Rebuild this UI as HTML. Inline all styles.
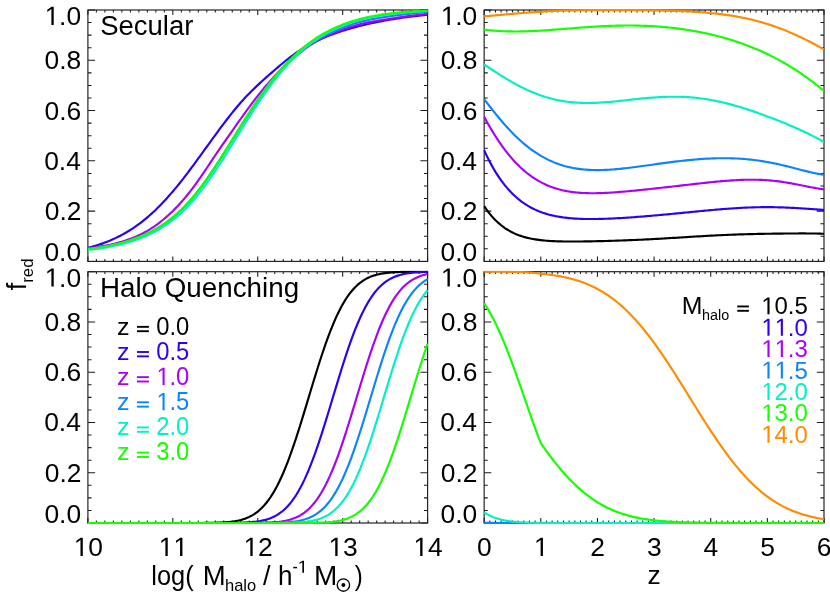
<!DOCTYPE html>
<html><head><meta charset="utf-8"><title>f_red</title><style>html,body{margin:0;padding:0;background:#fff;font-family:"Liberation Sans",sans-serif}svg{display:block;will-change:transform}</style></head><body>
<svg width="830" height="593" viewBox="0 0 830 593">
<rect width="830" height="593" fill="#fff"/>
<defs><clipPath id="c1"><rect x="87.20" y="8.70" width="341.10" height="254.00"/></clipPath><clipPath id="c2"><rect x="483.45" y="8.70" width="341.25" height="254.00"/></clipPath><clipPath id="c3"><rect x="87.20" y="270.40" width="341.10" height="253.90"/></clipPath><clipPath id="c4"><rect x="483.45" y="270.40" width="341.25" height="253.90"/></clipPath></defs>
<path d="M87.90 261.40v-5.0M87.90 10.00v5.0M96.39 261.40v-2.4M96.39 10.00v2.4M104.88 261.40v-2.4M104.88 10.00v2.4M113.38 261.40v-2.4M113.38 10.00v2.4M121.87 261.40v-2.4M121.87 10.00v2.4M130.36 261.40v-2.4M130.36 10.00v2.4M138.85 261.40v-2.4M138.85 10.00v2.4M147.35 261.40v-2.4M147.35 10.00v2.4M155.84 261.40v-2.4M155.84 10.00v2.4M164.33 261.40v-2.4M164.33 10.00v2.4M172.83 261.40v-5.0M172.83 10.00v5.0M181.32 261.40v-2.4M181.32 10.00v2.4M189.81 261.40v-2.4M189.81 10.00v2.4M198.30 261.40v-2.4M198.30 10.00v2.4M206.80 261.40v-2.4M206.80 10.00v2.4M215.29 261.40v-2.4M215.29 10.00v2.4M223.78 261.40v-2.4M223.78 10.00v2.4M232.27 261.40v-2.4M232.27 10.00v2.4M240.77 261.40v-2.4M240.77 10.00v2.4M249.26 261.40v-2.4M249.26 10.00v2.4M257.75 261.40v-5.0M257.75 10.00v5.0M266.24 261.40v-2.4M266.24 10.00v2.4M274.73 261.40v-2.4M274.73 10.00v2.4M283.23 261.40v-2.4M283.23 10.00v2.4M291.72 261.40v-2.4M291.72 10.00v2.4M300.21 261.40v-2.4M300.21 10.00v2.4M308.71 261.40v-2.4M308.71 10.00v2.4M317.20 261.40v-2.4M317.20 10.00v2.4M325.69 261.40v-2.4M325.69 10.00v2.4M334.18 261.40v-2.4M334.18 10.00v2.4M342.68 261.40v-5.0M342.68 10.00v5.0M351.17 261.40v-2.4M351.17 10.00v2.4M359.66 261.40v-2.4M359.66 10.00v2.4M368.15 261.40v-2.4M368.15 10.00v2.4M376.65 261.40v-2.4M376.65 10.00v2.4M385.14 261.40v-2.4M385.14 10.00v2.4M393.63 261.40v-2.4M393.63 10.00v2.4M402.12 261.40v-2.4M402.12 10.00v2.4M410.62 261.40v-2.4M410.62 10.00v2.4M419.11 261.40v-2.4M419.11 10.00v2.4M427.60 261.40v-5.0M427.60 10.00v5.0M87.90 261.40h7.2M427.60 261.40h-7.2M87.90 248.83h3.6M427.60 248.83h-3.6M87.90 236.26h3.6M427.60 236.26h-3.6M87.90 223.69h3.6M427.60 223.69h-3.6M87.90 211.12h7.2M427.60 211.12h-7.2M87.90 198.55h3.6M427.60 198.55h-3.6M87.90 185.98h3.6M427.60 185.98h-3.6M87.90 173.41h3.6M427.60 173.41h-3.6M87.90 160.84h7.2M427.60 160.84h-7.2M87.90 148.27h3.6M427.60 148.27h-3.6M87.90 135.70h3.6M427.60 135.70h-3.6M87.90 123.13h3.6M427.60 123.13h-3.6M87.90 110.56h7.2M427.60 110.56h-7.2M87.90 97.99h3.6M427.60 97.99h-3.6M87.90 85.42h3.6M427.60 85.42h-3.6M87.90 72.85h3.6M427.60 72.85h-3.6M87.90 60.28h7.2M427.60 60.28h-7.2M87.90 47.71h3.6M427.60 47.71h-3.6M87.90 35.14h3.6M427.60 35.14h-3.6M87.90 22.57h3.6M427.60 22.57h-3.6M87.90 10.00h7.2M427.60 10.00h-7.2" stroke="#1c1c1c" stroke-width="1.05" fill="none"/>
<rect x="87.90" y="10.00" width="339.70" height="251.40" fill="none" stroke="#1c1c1c" stroke-width="1.15"/>
<path d="M484.15 261.40v-5.0M484.15 10.00v5.0M489.81 261.40v-2.4M489.81 10.00v2.4M495.48 261.40v-2.4M495.48 10.00v2.4M501.14 261.40v-2.4M501.14 10.00v2.4M506.81 261.40v-2.4M506.81 10.00v2.4M512.47 261.40v-2.4M512.47 10.00v2.4M518.13 261.40v-2.4M518.13 10.00v2.4M523.80 261.40v-2.4M523.80 10.00v2.4M529.46 261.40v-2.4M529.46 10.00v2.4M535.13 261.40v-2.4M535.13 10.00v2.4M540.79 261.40v-5.0M540.79 10.00v5.0M546.46 261.40v-2.4M546.46 10.00v2.4M552.12 261.40v-2.4M552.12 10.00v2.4M557.78 261.40v-2.4M557.78 10.00v2.4M563.45 261.40v-2.4M563.45 10.00v2.4M569.11 261.40v-2.4M569.11 10.00v2.4M574.78 261.40v-2.4M574.78 10.00v2.4M580.44 261.40v-2.4M580.44 10.00v2.4M586.11 261.40v-2.4M586.11 10.00v2.4M591.77 261.40v-2.4M591.77 10.00v2.4M597.43 261.40v-5.0M597.43 10.00v5.0M603.10 261.40v-2.4M603.10 10.00v2.4M608.76 261.40v-2.4M608.76 10.00v2.4M614.43 261.40v-2.4M614.43 10.00v2.4M620.09 261.40v-2.4M620.09 10.00v2.4M625.75 261.40v-2.4M625.75 10.00v2.4M631.42 261.40v-2.4M631.42 10.00v2.4M637.08 261.40v-2.4M637.08 10.00v2.4M642.75 261.40v-2.4M642.75 10.00v2.4M648.41 261.40v-2.4M648.41 10.00v2.4M654.08 261.40v-5.0M654.08 10.00v5.0M659.74 261.40v-2.4M659.74 10.00v2.4M665.40 261.40v-2.4M665.40 10.00v2.4M671.07 261.40v-2.4M671.07 10.00v2.4M676.73 261.40v-2.4M676.73 10.00v2.4M682.40 261.40v-2.4M682.40 10.00v2.4M688.06 261.40v-2.4M688.06 10.00v2.4M693.72 261.40v-2.4M693.72 10.00v2.4M699.39 261.40v-2.4M699.39 10.00v2.4M705.05 261.40v-2.4M705.05 10.00v2.4M710.72 261.40v-5.0M710.72 10.00v5.0M716.38 261.40v-2.4M716.38 10.00v2.4M722.05 261.40v-2.4M722.05 10.00v2.4M727.71 261.40v-2.4M727.71 10.00v2.4M733.37 261.40v-2.4M733.37 10.00v2.4M739.04 261.40v-2.4M739.04 10.00v2.4M744.70 261.40v-2.4M744.70 10.00v2.4M750.37 261.40v-2.4M750.37 10.00v2.4M756.03 261.40v-2.4M756.03 10.00v2.4M761.69 261.40v-2.4M761.69 10.00v2.4M767.36 261.40v-5.0M767.36 10.00v5.0M773.02 261.40v-2.4M773.02 10.00v2.4M778.69 261.40v-2.4M778.69 10.00v2.4M784.35 261.40v-2.4M784.35 10.00v2.4M790.01 261.40v-2.4M790.01 10.00v2.4M795.68 261.40v-2.4M795.68 10.00v2.4M801.34 261.40v-2.4M801.34 10.00v2.4M807.01 261.40v-2.4M807.01 10.00v2.4M812.67 261.40v-2.4M812.67 10.00v2.4M818.34 261.40v-2.4M818.34 10.00v2.4M824.00 261.40v-5.0M824.00 10.00v5.0M484.15 261.40h7.2M824.00 261.40h-7.2M484.15 248.83h3.6M824.00 248.83h-3.6M484.15 236.26h3.6M824.00 236.26h-3.6M484.15 223.69h3.6M824.00 223.69h-3.6M484.15 211.12h7.2M824.00 211.12h-7.2M484.15 198.55h3.6M824.00 198.55h-3.6M484.15 185.98h3.6M824.00 185.98h-3.6M484.15 173.41h3.6M824.00 173.41h-3.6M484.15 160.84h7.2M824.00 160.84h-7.2M484.15 148.27h3.6M824.00 148.27h-3.6M484.15 135.70h3.6M824.00 135.70h-3.6M484.15 123.13h3.6M824.00 123.13h-3.6M484.15 110.56h7.2M824.00 110.56h-7.2M484.15 97.99h3.6M824.00 97.99h-3.6M484.15 85.42h3.6M824.00 85.42h-3.6M484.15 72.85h3.6M824.00 72.85h-3.6M484.15 60.28h7.2M824.00 60.28h-7.2M484.15 47.71h3.6M824.00 47.71h-3.6M484.15 35.14h3.6M824.00 35.14h-3.6M484.15 22.57h3.6M824.00 22.57h-3.6M484.15 10.00h7.2M824.00 10.00h-7.2" stroke="#1c1c1c" stroke-width="1.05" fill="none"/>
<rect x="484.15" y="10.00" width="339.85" height="251.40" fill="none" stroke="#1c1c1c" stroke-width="1.15"/>
<path d="M87.90 523.00v-5.0M87.90 271.70v5.0M96.39 523.00v-2.4M96.39 271.70v2.4M104.88 523.00v-2.4M104.88 271.70v2.4M113.38 523.00v-2.4M113.38 271.70v2.4M121.87 523.00v-2.4M121.87 271.70v2.4M130.36 523.00v-2.4M130.36 271.70v2.4M138.85 523.00v-2.4M138.85 271.70v2.4M147.35 523.00v-2.4M147.35 271.70v2.4M155.84 523.00v-2.4M155.84 271.70v2.4M164.33 523.00v-2.4M164.33 271.70v2.4M172.83 523.00v-5.0M172.83 271.70v5.0M181.32 523.00v-2.4M181.32 271.70v2.4M189.81 523.00v-2.4M189.81 271.70v2.4M198.30 523.00v-2.4M198.30 271.70v2.4M206.80 523.00v-2.4M206.80 271.70v2.4M215.29 523.00v-2.4M215.29 271.70v2.4M223.78 523.00v-2.4M223.78 271.70v2.4M232.27 523.00v-2.4M232.27 271.70v2.4M240.77 523.00v-2.4M240.77 271.70v2.4M249.26 523.00v-2.4M249.26 271.70v2.4M257.75 523.00v-5.0M257.75 271.70v5.0M266.24 523.00v-2.4M266.24 271.70v2.4M274.73 523.00v-2.4M274.73 271.70v2.4M283.23 523.00v-2.4M283.23 271.70v2.4M291.72 523.00v-2.4M291.72 271.70v2.4M300.21 523.00v-2.4M300.21 271.70v2.4M308.71 523.00v-2.4M308.71 271.70v2.4M317.20 523.00v-2.4M317.20 271.70v2.4M325.69 523.00v-2.4M325.69 271.70v2.4M334.18 523.00v-2.4M334.18 271.70v2.4M342.68 523.00v-5.0M342.68 271.70v5.0M351.17 523.00v-2.4M351.17 271.70v2.4M359.66 523.00v-2.4M359.66 271.70v2.4M368.15 523.00v-2.4M368.15 271.70v2.4M376.65 523.00v-2.4M376.65 271.70v2.4M385.14 523.00v-2.4M385.14 271.70v2.4M393.63 523.00v-2.4M393.63 271.70v2.4M402.12 523.00v-2.4M402.12 271.70v2.4M410.62 523.00v-2.4M410.62 271.70v2.4M419.11 523.00v-2.4M419.11 271.70v2.4M427.60 523.00v-5.0M427.60 271.70v5.0M87.90 523.00h7.2M427.60 523.00h-7.2M87.90 510.44h3.6M427.60 510.44h-3.6M87.90 497.87h3.6M427.60 497.87h-3.6M87.90 485.31h3.6M427.60 485.31h-3.6M87.90 472.74h7.2M427.60 472.74h-7.2M87.90 460.18h3.6M427.60 460.18h-3.6M87.90 447.61h3.6M427.60 447.61h-3.6M87.90 435.04h3.6M427.60 435.04h-3.6M87.90 422.48h7.2M427.60 422.48h-7.2M87.90 409.91h3.6M427.60 409.91h-3.6M87.90 397.35h3.6M427.60 397.35h-3.6M87.90 384.78h3.6M427.60 384.78h-3.6M87.90 372.22h7.2M427.60 372.22h-7.2M87.90 359.65h3.6M427.60 359.65h-3.6M87.90 347.09h3.6M427.60 347.09h-3.6M87.90 334.52h3.6M427.60 334.52h-3.6M87.90 321.96h7.2M427.60 321.96h-7.2M87.90 309.39h3.6M427.60 309.39h-3.6M87.90 296.83h3.6M427.60 296.83h-3.6M87.90 284.26h3.6M427.60 284.26h-3.6M87.90 271.70h7.2M427.60 271.70h-7.2" stroke="#1c1c1c" stroke-width="1.05" fill="none"/>
<rect x="87.90" y="271.70" width="339.70" height="251.30" fill="none" stroke="#1c1c1c" stroke-width="1.15"/>
<path d="M484.15 523.00v-5.0M484.15 271.70v5.0M489.81 523.00v-2.4M489.81 271.70v2.4M495.48 523.00v-2.4M495.48 271.70v2.4M501.14 523.00v-2.4M501.14 271.70v2.4M506.81 523.00v-2.4M506.81 271.70v2.4M512.47 523.00v-2.4M512.47 271.70v2.4M518.13 523.00v-2.4M518.13 271.70v2.4M523.80 523.00v-2.4M523.80 271.70v2.4M529.46 523.00v-2.4M529.46 271.70v2.4M535.13 523.00v-2.4M535.13 271.70v2.4M540.79 523.00v-5.0M540.79 271.70v5.0M546.46 523.00v-2.4M546.46 271.70v2.4M552.12 523.00v-2.4M552.12 271.70v2.4M557.78 523.00v-2.4M557.78 271.70v2.4M563.45 523.00v-2.4M563.45 271.70v2.4M569.11 523.00v-2.4M569.11 271.70v2.4M574.78 523.00v-2.4M574.78 271.70v2.4M580.44 523.00v-2.4M580.44 271.70v2.4M586.11 523.00v-2.4M586.11 271.70v2.4M591.77 523.00v-2.4M591.77 271.70v2.4M597.43 523.00v-5.0M597.43 271.70v5.0M603.10 523.00v-2.4M603.10 271.70v2.4M608.76 523.00v-2.4M608.76 271.70v2.4M614.43 523.00v-2.4M614.43 271.70v2.4M620.09 523.00v-2.4M620.09 271.70v2.4M625.75 523.00v-2.4M625.75 271.70v2.4M631.42 523.00v-2.4M631.42 271.70v2.4M637.08 523.00v-2.4M637.08 271.70v2.4M642.75 523.00v-2.4M642.75 271.70v2.4M648.41 523.00v-2.4M648.41 271.70v2.4M654.08 523.00v-5.0M654.08 271.70v5.0M659.74 523.00v-2.4M659.74 271.70v2.4M665.40 523.00v-2.4M665.40 271.70v2.4M671.07 523.00v-2.4M671.07 271.70v2.4M676.73 523.00v-2.4M676.73 271.70v2.4M682.40 523.00v-2.4M682.40 271.70v2.4M688.06 523.00v-2.4M688.06 271.70v2.4M693.72 523.00v-2.4M693.72 271.70v2.4M699.39 523.00v-2.4M699.39 271.70v2.4M705.05 523.00v-2.4M705.05 271.70v2.4M710.72 523.00v-5.0M710.72 271.70v5.0M716.38 523.00v-2.4M716.38 271.70v2.4M722.05 523.00v-2.4M722.05 271.70v2.4M727.71 523.00v-2.4M727.71 271.70v2.4M733.37 523.00v-2.4M733.37 271.70v2.4M739.04 523.00v-2.4M739.04 271.70v2.4M744.70 523.00v-2.4M744.70 271.70v2.4M750.37 523.00v-2.4M750.37 271.70v2.4M756.03 523.00v-2.4M756.03 271.70v2.4M761.69 523.00v-2.4M761.69 271.70v2.4M767.36 523.00v-5.0M767.36 271.70v5.0M773.02 523.00v-2.4M773.02 271.70v2.4M778.69 523.00v-2.4M778.69 271.70v2.4M784.35 523.00v-2.4M784.35 271.70v2.4M790.01 523.00v-2.4M790.01 271.70v2.4M795.68 523.00v-2.4M795.68 271.70v2.4M801.34 523.00v-2.4M801.34 271.70v2.4M807.01 523.00v-2.4M807.01 271.70v2.4M812.67 523.00v-2.4M812.67 271.70v2.4M818.34 523.00v-2.4M818.34 271.70v2.4M824.00 523.00v-5.0M824.00 271.70v5.0M484.15 523.00h7.2M824.00 523.00h-7.2M484.15 510.44h3.6M824.00 510.44h-3.6M484.15 497.87h3.6M824.00 497.87h-3.6M484.15 485.31h3.6M824.00 485.31h-3.6M484.15 472.74h7.2M824.00 472.74h-7.2M484.15 460.18h3.6M824.00 460.18h-3.6M484.15 447.61h3.6M824.00 447.61h-3.6M484.15 435.04h3.6M824.00 435.04h-3.6M484.15 422.48h7.2M824.00 422.48h-7.2M484.15 409.91h3.6M824.00 409.91h-3.6M484.15 397.35h3.6M824.00 397.35h-3.6M484.15 384.78h3.6M824.00 384.78h-3.6M484.15 372.22h7.2M824.00 372.22h-7.2M484.15 359.65h3.6M824.00 359.65h-3.6M484.15 347.09h3.6M824.00 347.09h-3.6M484.15 334.52h3.6M824.00 334.52h-3.6M484.15 321.96h7.2M824.00 321.96h-7.2M484.15 309.39h3.6M824.00 309.39h-3.6M484.15 296.83h3.6M824.00 296.83h-3.6M484.15 284.26h3.6M824.00 284.26h-3.6M484.15 271.70h7.2M824.00 271.70h-7.2" stroke="#1c1c1c" stroke-width="1.05" fill="none"/>
<rect x="484.15" y="271.70" width="339.85" height="251.30" fill="none" stroke="#1c1c1c" stroke-width="1.15"/>
<path d="M87.90 247.90 L90.02 247.34 L92.15 246.76 L94.27 246.15 L96.39 245.50 L98.52 244.83 L100.64 244.12 L102.76 243.37 L104.88 242.59 L107.01 241.78 L109.13 240.92 L111.25 240.03 L113.38 239.09 L115.50 238.11 L117.62 237.09 L119.75 236.02 L121.87 234.90 L123.99 233.74 L126.12 232.52 L128.24 231.26 L130.36 229.94 L132.49 228.57 L134.61 227.14 L136.73 225.66 L138.85 224.12 L140.98 222.52 L143.10 220.86 L145.22 219.15 L147.35 217.37 L149.47 215.54 L151.59 213.64 L153.72 211.69 L155.84 209.67 L157.96 207.59 L160.09 205.46 L162.21 203.26 L164.33 201.01 L166.46 198.70 L168.58 196.33 L170.70 193.91 L172.83 191.43 L174.95 188.91 L177.07 186.33 L179.19 183.71 L181.32 181.05 L183.44 178.34 L185.56 175.60 L187.69 172.82 L189.81 170.00 L191.93 167.16 L194.06 164.29 L196.18 161.40 L198.30 158.49 L200.43 155.57 L202.55 152.63 L204.67 149.69 L206.80 146.75 L208.92 143.80 L211.04 140.86 L213.16 137.93 L215.29 135.01 L217.41 132.11 L219.53 129.23 L221.66 126.38 L223.78 123.55 L225.90 120.76 L228.03 118.01 L230.15 115.30 L232.27 112.64 L234.40 110.03 L236.52 107.48 L238.64 104.98 L240.77 102.54 L242.89 100.16 L245.01 97.84 L247.13 95.59 L249.26 93.39 L251.38 91.25 L253.50 89.16 L255.63 87.12 L257.75 85.12 L259.87 83.16 L262.00 81.22 L264.12 79.31 L266.24 77.42 L268.37 75.54 L270.49 73.68 L272.61 71.82 L274.73 69.98 L276.86 68.15 L278.98 66.34 L281.10 64.55 L283.23 62.78 L285.35 61.04 L287.47 59.34 L289.60 57.68 L291.72 56.06 L293.84 54.49 L295.97 52.98 L298.09 51.52 L300.21 50.11 L302.34 48.76 L304.46 47.46 L306.58 46.22 L308.71 45.02 L310.83 43.87 L312.95 42.77 L315.07 41.71 L317.20 40.69 L319.32 39.70 L321.44 38.76 L323.57 37.84 L325.69 36.96 L327.81 36.10 L329.94 35.27 L332.06 34.47 L334.18 33.70 L336.31 32.94 L338.43 32.21 L340.55 31.51 L342.68 30.82 L344.80 30.15 L346.92 29.50 L349.04 28.88 L351.17 28.27 L353.29 27.67 L355.41 27.10 L357.54 26.54 L359.66 25.99 L361.78 25.47 L363.91 24.95 L366.03 24.45 L368.15 23.97 L370.28 23.50 L372.40 23.04 L374.52 22.59 L376.65 22.16 L378.77 21.74 L380.89 21.33 L383.01 20.93 L385.14 20.54 L387.26 20.16 L389.38 19.79 L391.51 19.44 L393.63 19.09 L395.75 18.75 L397.88 18.42 L400.00 18.10 L402.12 17.79 L404.25 17.49 L406.37 17.19 L408.49 16.91 L410.62 16.63 L412.74 16.36 L414.86 16.10 L416.98 15.84 L419.11 15.60 L421.23 15.36 L423.35 15.12 L425.48 14.90 L427.60 14.68" fill="none" stroke="#2d00f5" stroke-width="2.15" stroke-linejoin="round" stroke-linecap="butt" clip-path="url(#c1)"/>
<path d="M87.90 248.28 L90.02 248.04 L92.15 247.78 L94.27 247.50 L96.39 247.20 L98.52 246.88 L100.64 246.54 L102.76 246.17 L104.88 245.78 L107.01 245.37 L109.13 244.93 L111.25 244.46 L113.38 243.96 L115.50 243.44 L117.62 242.88 L119.75 242.30 L121.87 241.68 L123.99 241.03 L126.12 240.35 L128.24 239.62 L130.36 238.87 L132.49 238.06 L134.61 237.20 L136.73 236.29 L138.85 235.32 L140.98 234.30 L143.10 233.21 L145.22 232.06 L147.35 230.85 L149.47 229.56 L151.59 228.21 L153.72 226.80 L155.84 225.32 L157.96 223.78 L160.09 222.17 L162.21 220.49 L164.33 218.74 L166.46 216.92 L168.58 215.02 L170.70 213.05 L172.83 211.00 L174.95 208.88 L177.07 206.68 L179.19 204.40 L181.32 202.04 L183.44 199.60 L185.56 197.09 L187.69 194.50 L189.81 191.83 L191.93 189.09 L194.06 186.28 L196.18 183.40 L198.30 180.44 L200.43 177.43 L202.55 174.35 L204.67 171.21 L206.80 168.01 L208.92 164.82 L211.04 161.62 L213.16 158.44 L215.29 155.27 L217.41 152.12 L219.53 149.00 L221.66 145.91 L223.78 142.86 L225.90 139.84 L228.03 136.82 L230.15 133.80 L232.27 130.77 L234.40 127.75 L236.52 124.74 L238.64 121.74 L240.77 118.75 L242.89 115.78 L245.01 112.83 L247.13 109.91 L249.26 107.02 L251.38 104.16 L253.50 101.36 L255.63 98.59 L257.75 95.88 L259.87 93.22 L262.00 90.61 L264.12 88.05 L266.24 85.55 L268.37 83.10 L270.49 80.70 L272.61 78.35 L274.73 76.05 L276.86 73.80 L278.98 71.60 L281.10 69.46 L283.23 67.36 L285.35 65.32 L287.47 63.34 L289.60 61.40 L291.72 59.52 L293.84 57.68 L295.97 55.89 L298.09 54.15 L300.21 52.45 L302.34 50.81 L304.46 49.21 L306.58 47.66 L308.71 46.15 L310.83 44.72 L312.95 43.37 L315.07 42.09 L317.20 40.88 L319.32 39.73 L321.44 38.64 L323.57 37.61 L325.69 36.64 L327.81 35.71 L329.94 34.81 L332.06 33.93 L334.18 33.06 L336.31 32.22 L338.43 31.40 L340.55 30.60 L342.68 29.82 L344.80 29.06 L346.92 28.31 L349.04 27.59 L351.17 26.88 L353.29 26.20 L355.41 25.53 L357.54 24.91 L359.66 24.33 L361.78 23.80 L363.91 23.30 L366.03 22.84 L368.15 22.41 L370.28 22.01 L372.40 21.63 L374.52 21.29 L376.65 20.95 L378.77 20.60 L380.89 20.26 L383.01 19.92 L385.14 19.59 L387.26 19.26 L389.38 18.93 L391.51 18.60 L393.63 18.28 L395.75 17.96 L397.88 17.64 L400.00 17.33 L402.12 17.02 L404.25 16.72 L406.37 16.43 L408.49 16.13 L410.62 15.85 L412.74 15.57 L414.86 15.30 L416.98 15.03 L419.11 14.77 L421.23 14.50 L423.35 14.22 L425.48 13.93 L427.60 13.65" fill="none" stroke="#a800ff" stroke-width="2.15" stroke-linejoin="round" stroke-linecap="butt" clip-path="url(#c1)"/>
<path d="M87.90 249.24 L90.02 249.02 L92.15 248.77 L94.27 248.50 L96.39 248.21 L98.52 247.91 L100.64 247.58 L102.76 247.23 L104.88 246.86 L107.01 246.47 L109.13 246.06 L111.25 245.62 L113.38 245.16 L115.50 244.67 L117.62 244.16 L119.75 243.62 L121.87 243.06 L123.99 242.46 L126.12 241.84 L128.24 241.19 L130.36 240.50 L132.49 239.79 L134.61 239.04 L136.73 238.25 L138.85 237.43 L140.98 236.57 L143.10 235.66 L145.22 234.72 L147.35 233.73 L149.47 232.69 L151.59 231.61 L153.72 230.48 L155.84 229.29 L157.96 228.04 L160.09 226.74 L162.21 225.37 L164.33 223.95 L166.46 222.45 L168.58 220.89 L170.70 219.25 L172.83 217.54 L174.95 215.75 L177.07 213.89 L179.19 211.94 L181.32 209.92 L183.44 207.81 L185.56 205.61 L187.69 203.34 L189.81 200.97 L191.93 198.52 L194.06 195.99 L196.18 193.38 L198.30 190.68 L200.43 187.91 L202.55 185.05 L204.67 182.13 L206.80 179.13 L208.92 176.07 L211.04 172.96 L213.16 169.80 L215.29 166.59 L217.41 163.33 L219.53 160.05 L221.66 156.73 L223.78 153.39 L225.90 150.03 L228.03 146.66 L230.15 143.26 L232.27 139.86 L234.40 136.46 L236.52 133.06 L238.64 129.67 L240.77 126.30 L242.89 122.94 L245.01 119.61 L247.13 116.30 L249.26 113.03 L251.38 109.79 L253.50 106.60 L255.63 103.44 L257.75 100.34 L259.87 97.28 L262.00 94.28 L264.12 91.33 L266.24 88.44 L268.37 85.61 L270.49 82.84 L272.61 80.14 L274.73 77.49 L276.86 74.91 L278.98 72.40 L281.10 69.95 L283.23 67.57 L285.35 65.25 L287.47 63.00 L289.60 60.81 L291.72 58.69 L293.84 56.67 L295.97 54.75 L298.09 52.93 L300.21 51.19 L302.34 49.54 L304.46 47.97 L306.58 46.48 L308.71 45.06 L310.83 43.71 L312.95 42.40 L315.07 41.13 L317.20 39.89 L319.32 38.69 L321.44 37.53 L323.57 36.40 L325.69 35.31 L327.81 34.25 L329.94 33.23 L332.06 32.23 L334.18 31.27 L336.31 30.34 L338.43 29.44 L340.55 28.57 L342.68 27.73 L344.80 26.91 L346.92 26.13 L349.04 25.37 L351.17 24.64 L353.29 23.93 L355.41 23.25 L357.54 22.61 L359.66 22.02 L361.78 21.46 L363.91 20.93 L366.03 20.44 L368.15 19.97 L370.28 19.54 L372.40 19.13 L374.52 18.74 L376.65 18.36 L378.77 17.99 L380.89 17.63 L383.01 17.29 L385.14 16.95 L387.26 16.62 L389.38 16.30 L391.51 15.98 L393.63 15.68 L395.75 15.39 L397.88 15.11 L400.00 14.83 L402.12 14.57 L404.25 14.31 L406.37 14.07 L408.49 13.83 L410.62 13.60 L412.74 13.39 L414.86 13.18 L416.98 12.97 L419.11 12.78 L421.23 12.59 L423.35 12.41 L425.48 12.22 L427.60 12.05" fill="none" stroke="#0a84ff" stroke-width="2.15" stroke-linejoin="round" stroke-linecap="butt" clip-path="url(#c1)"/>
<path d="M87.90 249.82 L90.02 249.60 L92.15 249.37 L94.27 249.12 L96.39 248.85 L98.52 248.56 L100.64 248.25 L102.76 247.93 L104.88 247.58 L107.01 247.21 L109.13 246.82 L111.25 246.41 L113.38 245.98 L115.50 245.53 L117.62 245.05 L119.75 244.54 L121.87 244.01 L123.99 243.46 L126.12 242.87 L128.24 242.26 L130.36 241.62 L132.49 240.95 L134.61 240.25 L136.73 239.51 L138.85 238.74 L140.98 237.93 L143.10 237.09 L145.22 236.20 L147.35 235.28 L149.47 234.30 L151.59 233.29 L153.72 232.22 L155.84 231.11 L157.96 229.94 L160.09 228.71 L162.21 227.42 L164.33 226.08 L166.46 224.67 L168.58 223.19 L170.70 221.65 L172.83 220.03 L174.95 218.34 L177.07 216.57 L179.19 214.72 L181.32 212.79 L183.44 210.78 L185.56 208.69 L187.69 206.52 L189.81 204.26 L191.93 201.91 L194.06 199.48 L196.18 196.97 L198.30 194.38 L200.43 191.70 L202.55 188.95 L204.67 186.12 L206.80 183.22 L208.92 180.25 L211.04 177.21 L213.16 174.11 L215.29 170.95 L217.41 167.74 L219.53 164.48 L221.66 161.17 L223.78 157.83 L225.90 154.45 L228.03 151.05 L230.15 147.63 L232.27 144.20 L234.40 140.75 L236.52 137.31 L238.64 133.86 L240.77 130.43 L242.89 127.00 L245.01 123.60 L247.13 120.22 L249.26 116.87 L251.38 113.55 L253.50 110.25 L255.63 107.00 L257.75 103.78 L259.87 100.61 L262.00 97.48 L264.12 94.40 L266.24 91.38 L268.37 88.41 L270.49 85.51 L272.61 82.66 L274.73 79.89 L276.86 77.17 L278.98 74.53 L281.10 71.96 L283.23 69.45 L285.35 67.01 L287.47 64.65 L289.60 62.35 L291.72 60.12 L293.84 57.97 L295.97 55.90 L298.09 53.91 L300.21 51.99 L302.34 50.15 L304.46 48.38 L306.58 46.67 L308.71 45.04 L310.83 43.47 L312.95 41.95 L315.07 40.49 L317.20 39.08 L319.32 37.72 L321.44 36.41 L323.57 35.15 L325.69 33.93 L327.81 32.77 L329.94 31.65 L332.06 30.57 L334.18 29.53 L336.31 28.54 L338.43 27.59 L340.55 26.67 L342.68 25.80 L344.80 24.96 L346.92 24.16 L349.04 23.39 L351.17 22.65 L353.29 21.95 L355.41 21.28 L357.54 20.64 L359.66 20.05 L361.78 19.48 L363.91 18.95 L366.03 18.45 L368.15 17.97 L370.28 17.52 L372.40 17.10 L374.52 16.69 L376.65 16.31 L378.77 15.94 L380.89 15.59 L383.01 15.26 L385.14 14.94 L387.26 14.63 L389.38 14.34 L391.51 14.06 L393.63 13.80 L395.75 13.55 L397.88 13.31 L400.00 13.09 L402.12 12.88 L404.25 12.67 L406.37 12.48 L408.49 12.30 L410.62 12.13 L412.74 11.97 L414.86 11.82 L416.98 11.68 L419.11 11.55 L421.23 11.42 L423.35 11.31 L425.48 11.19 L427.60 11.09" fill="none" stroke="#00f0c8" stroke-width="2.15" stroke-linejoin="round" stroke-linecap="butt" clip-path="url(#c1)"/>
<path d="M87.90 248.90 L90.02 248.67 L92.15 248.42 L94.27 248.15 L96.39 247.86 L98.52 247.55 L100.64 247.22 L102.76 246.87 L104.88 246.50 L107.01 246.11 L109.13 245.69 L111.25 245.25 L113.38 244.78 L115.50 244.30 L117.62 243.78 L119.75 243.24 L121.87 242.67 L123.99 242.08 L126.12 241.45 L128.24 240.79 L130.36 240.11 L132.49 239.39 L134.61 238.63 L136.73 237.85 L138.85 237.02 L140.98 236.16 L143.10 235.25 L145.22 234.31 L147.35 233.32 L149.47 232.28 L151.59 231.20 L153.72 230.06 L155.84 228.87 L157.96 227.63 L160.09 226.33 L162.21 224.97 L164.33 223.54 L166.46 222.05 L168.58 220.49 L170.70 218.86 L172.83 217.16 L174.95 215.38 L177.07 213.52 L179.19 211.59 L181.32 209.57 L183.44 207.48 L185.56 205.30 L187.69 203.03 L189.81 200.69 L191.93 198.26 L194.06 195.74 L196.18 193.15 L198.30 190.47 L200.43 187.72 L202.55 184.89 L204.67 181.99 L206.80 179.02 L208.92 175.98 L211.04 172.88 L213.16 169.73 L215.29 166.52 L217.41 163.26 L219.53 159.97 L221.66 156.63 L223.78 153.27 L225.90 149.88 L228.03 146.47 L230.15 143.04 L232.27 139.61 L234.40 136.18 L236.52 132.75 L238.64 129.33 L240.77 125.92 L242.89 122.54 L245.01 119.18 L247.13 115.84 L249.26 112.54 L251.38 109.28 L253.50 106.06 L255.63 102.89 L257.75 99.76 L259.87 96.69 L262.00 93.67 L264.12 90.70 L266.24 87.80 L268.37 84.96 L270.49 82.17 L272.61 79.46 L274.73 76.81 L276.86 74.22 L278.98 71.70 L281.10 69.25 L283.23 66.86 L285.35 64.54 L287.47 62.29 L289.60 60.11 L291.72 57.99 L293.84 55.94 L295.97 53.95 L298.09 52.03 L300.21 50.18 L302.34 48.38 L304.46 46.65 L306.58 44.98 L308.71 43.36 L310.83 41.81 L312.95 40.31 L315.07 38.87 L317.20 37.49 L319.32 36.15 L321.44 34.87 L323.57 33.64 L325.69 32.46 L327.81 31.33 L329.94 30.24 L332.06 29.20 L334.18 28.20 L336.31 27.24 L338.43 26.32 L340.55 25.45 L342.68 24.61 L344.80 23.81 L346.92 23.04 L349.04 22.31 L351.17 21.61 L353.29 20.95 L355.41 20.31 L357.54 19.71 L359.66 19.14 L361.78 18.59 L363.91 18.07 L366.03 17.57 L368.15 17.10 L370.28 16.66 L372.40 16.23 L374.52 15.83 L376.65 15.45 L378.77 15.09 L380.89 14.75 L383.01 14.43 L385.14 14.12 L387.26 13.83 L389.38 13.56 L391.51 13.31 L393.63 13.07 L395.75 12.84 L397.88 12.63 L400.00 12.43 L402.12 12.24 L404.25 12.07 L406.37 11.91 L408.49 11.75 L410.62 11.61 L412.74 11.48 L414.86 11.35 L416.98 11.24 L419.11 11.13 L421.23 11.03 L423.35 10.94 L425.48 10.85 L427.60 10.78" fill="none" stroke="#14ff00" stroke-width="2.15" stroke-linejoin="round" stroke-linecap="butt" clip-path="url(#c1)"/>
<path d="M484.15 206.15 L486.04 208.90 L487.93 211.48 L489.81 213.89 L491.70 216.13 L493.59 218.23 L495.48 220.18 L497.37 221.99 L499.25 223.67 L501.14 225.24 L503.03 226.69 L504.92 228.03 L506.81 229.28 L508.69 230.42 L510.58 231.48 L512.47 232.46 L514.36 233.36 L516.25 234.19 L518.13 234.95 L520.02 235.64 L521.91 236.28 L523.80 236.86 L525.69 237.39 L527.58 237.87 L529.46 238.30 L531.35 238.70 L533.24 239.06 L535.13 239.38 L537.02 239.67 L538.90 239.93 L540.79 240.16 L542.68 240.37 L544.57 240.55 L546.46 240.71 L548.34 240.86 L550.23 240.98 L552.12 241.09 L554.01 241.18 L555.90 241.26 L557.78 241.32 L559.67 241.38 L561.56 241.42 L563.45 241.46 L565.34 241.49 L567.22 241.51 L569.11 241.52 L571.00 241.52 L572.89 241.52 L574.78 241.52 L576.66 241.51 L578.55 241.50 L580.44 241.48 L582.33 241.46 L584.22 241.43 L586.11 241.41 L587.99 241.38 L589.88 241.34 L591.77 241.31 L593.66 241.27 L595.55 241.23 L597.43 241.19 L599.32 241.15 L601.21 241.10 L603.10 241.06 L604.99 241.01 L606.87 240.96 L608.76 240.90 L610.65 240.85 L612.54 240.79 L614.43 240.73 L616.31 240.67 L618.20 240.61 L620.09 240.55 L621.98 240.48 L623.87 240.41 L625.75 240.34 L627.64 240.27 L629.53 240.19 L631.42 240.12 L633.31 240.04 L635.19 239.96 L637.08 239.87 L638.97 239.79 L640.86 239.70 L642.75 239.61 L644.63 239.52 L646.52 239.42 L648.41 239.33 L650.30 239.23 L652.19 239.13 L654.08 239.03 L655.96 238.92 L657.85 238.82 L659.74 238.71 L661.63 238.60 L663.52 238.49 L665.40 238.38 L667.29 238.27 L669.18 238.16 L671.07 238.04 L672.96 237.93 L674.84 237.81 L676.73 237.70 L678.62 237.58 L680.51 237.47 L682.40 237.35 L684.28 237.23 L686.17 237.12 L688.06 237.00 L689.95 236.88 L691.84 236.77 L693.72 236.65 L695.61 236.54 L697.50 236.43 L699.39 236.32 L701.28 236.21 L703.16 236.10 L705.05 235.99 L706.94 235.89 L708.83 235.78 L710.72 235.68 L712.60 235.58 L714.49 235.49 L716.38 235.39 L718.27 235.30 L720.16 235.21 L722.05 235.12 L723.93 235.03 L725.82 234.95 L727.71 234.87 L729.60 234.79 L731.49 234.72 L733.37 234.65 L735.26 234.58 L737.15 234.51 L739.04 234.44 L740.93 234.38 L742.81 234.32 L744.70 234.27 L746.59 234.21 L748.48 234.16 L750.37 234.11 L752.25 234.06 L754.14 234.02 L756.03 233.98 L757.92 233.94 L759.81 233.90 L761.69 233.86 L763.58 233.83 L765.47 233.79 L767.36 233.76 L769.25 233.73 L771.13 233.70 L773.02 233.68 L774.91 233.65 L776.80 233.63 L778.69 233.60 L780.57 233.58 L782.46 233.56 L784.35 233.54 L786.24 233.52 L788.13 233.51 L790.01 233.49 L791.90 233.48 L793.79 233.47 L795.68 233.46 L797.57 233.45 L799.46 233.44 L801.34 233.44 L803.23 233.44 L805.12 233.44 L807.01 233.45 L808.90 233.46 L810.78 233.47 L812.67 233.49 L814.56 233.52 L816.45 233.55 L818.34 233.59 L820.22 233.64 L822.11 233.70 L824.00 233.76" fill="none" stroke="#000000" stroke-width="2.15" stroke-linejoin="round" stroke-linecap="butt" clip-path="url(#c2)"/>
<path d="M484.15 150.26 L486.04 154.33 L487.93 158.20 L489.81 161.88 L491.70 165.37 L493.59 168.69 L495.48 171.85 L497.37 174.84 L499.25 177.68 L501.14 180.36 L503.03 182.91 L504.92 185.32 L506.81 187.60 L508.69 189.76 L510.58 191.79 L512.47 193.72 L514.36 195.53 L516.25 197.24 L518.13 198.85 L520.02 200.37 L521.91 201.80 L523.80 203.14 L525.69 204.40 L527.58 205.58 L529.46 206.69 L531.35 207.73 L533.24 208.70 L535.13 209.61 L537.02 210.45 L538.90 211.24 L540.79 211.98 L542.68 212.66 L544.57 213.29 L546.46 213.88 L548.34 214.42 L550.23 214.92 L552.12 215.39 L554.01 215.81 L555.90 216.20 L557.78 216.56 L559.67 216.89 L561.56 217.18 L563.45 217.45 L565.34 217.69 L567.22 217.91 L569.11 218.10 L571.00 218.27 L572.89 218.42 L574.78 218.56 L576.66 218.67 L578.55 218.77 L580.44 218.85 L582.33 218.91 L584.22 218.96 L586.11 219.00 L587.99 219.02 L589.88 219.03 L591.77 219.03 L593.66 219.02 L595.55 219.00 L597.43 218.98 L599.32 218.94 L601.21 218.89 L603.10 218.84 L604.99 218.78 L606.87 218.71 L608.76 218.64 L610.65 218.56 L612.54 218.47 L614.43 218.38 L616.31 218.28 L618.20 218.18 L620.09 218.08 L621.98 217.96 L623.87 217.85 L625.75 217.73 L627.64 217.61 L629.53 217.48 L631.42 217.35 L633.31 217.21 L635.19 217.08 L637.08 216.94 L638.97 216.79 L640.86 216.65 L642.75 216.50 L644.63 216.34 L646.52 216.19 L648.41 216.03 L650.30 215.87 L652.19 215.71 L654.08 215.55 L655.96 215.38 L657.85 215.21 L659.74 215.04 L661.63 214.87 L663.52 214.69 L665.40 214.52 L667.29 214.34 L669.18 214.16 L671.07 213.98 L672.96 213.80 L674.84 213.61 L676.73 213.43 L678.62 213.24 L680.51 213.06 L682.40 212.87 L684.28 212.69 L686.17 212.50 L688.06 212.31 L689.95 212.13 L691.84 211.94 L693.72 211.75 L695.61 211.57 L697.50 211.39 L699.39 211.20 L701.28 211.02 L703.16 210.84 L705.05 210.66 L706.94 210.48 L708.83 210.31 L710.72 210.14 L712.60 209.97 L714.49 209.80 L716.38 209.63 L718.27 209.47 L720.16 209.32 L722.05 209.16 L723.93 209.01 L725.82 208.87 L727.71 208.72 L729.60 208.59 L731.49 208.46 L733.37 208.33 L735.26 208.21 L737.15 208.09 L739.04 207.98 L740.93 207.88 L742.81 207.78 L744.70 207.69 L746.59 207.61 L748.48 207.53 L750.37 207.46 L752.25 207.39 L754.14 207.34 L756.03 207.29 L757.92 207.25 L759.81 207.21 L761.69 207.19 L763.58 207.17 L765.47 207.16 L767.36 207.15 L769.25 207.16 L771.13 207.17 L773.02 207.19 L774.91 207.22 L776.80 207.26 L778.69 207.31 L780.57 207.36 L782.46 207.42 L784.35 207.49 L786.24 207.56 L788.13 207.64 L790.01 207.73 L791.90 207.83 L793.79 207.93 L795.68 208.03 L797.57 208.14 L799.46 208.26 L801.34 208.38 L803.23 208.51 L805.12 208.63 L807.01 208.76 L808.90 208.90 L810.78 209.03 L812.67 209.16 L814.56 209.30 L816.45 209.43 L818.34 209.56 L820.22 209.69 L822.11 209.81 L824.00 209.93" fill="none" stroke="#2d00f5" stroke-width="2.15" stroke-linejoin="round" stroke-linecap="butt" clip-path="url(#c2)"/>
<path d="M484.15 116.82 L486.04 120.30 L487.93 123.68 L489.81 126.97 L491.70 130.16 L493.59 133.26 L495.48 136.26 L497.37 139.17 L499.25 141.99 L501.14 144.71 L503.03 147.34 L504.92 149.87 L506.81 152.32 L508.69 154.67 L510.58 156.93 L512.47 159.11 L514.36 161.19 L516.25 163.20 L518.13 165.11 L520.02 166.95 L521.91 168.70 L523.80 170.38 L525.69 171.98 L527.58 173.50 L529.46 174.94 L531.35 176.32 L533.24 177.62 L535.13 178.86 L537.02 180.03 L538.90 181.13 L540.79 182.17 L542.68 183.15 L544.57 184.07 L546.46 184.93 L548.34 185.74 L550.23 186.50 L552.12 187.20 L554.01 187.86 L555.90 188.46 L557.78 189.03 L559.67 189.54 L561.56 190.02 L563.45 190.45 L565.34 190.85 L567.22 191.21 L569.11 191.53 L571.00 191.82 L572.89 192.08 L574.78 192.31 L576.66 192.51 L578.55 192.68 L580.44 192.83 L582.33 192.95 L584.22 193.04 L586.11 193.12 L587.99 193.17 L589.88 193.21 L591.77 193.23 L593.66 193.23 L595.55 193.21 L597.43 193.18 L599.32 193.13 L601.21 193.07 L603.10 193.00 L604.99 192.92 L606.87 192.82 L608.76 192.72 L610.65 192.61 L612.54 192.49 L614.43 192.36 L616.31 192.22 L618.20 192.08 L620.09 191.93 L621.98 191.77 L623.87 191.61 L625.75 191.45 L627.64 191.28 L629.53 191.10 L631.42 190.93 L633.31 190.74 L635.19 190.56 L637.08 190.37 L638.97 190.18 L640.86 189.99 L642.75 189.80 L644.63 189.60 L646.52 189.40 L648.41 189.20 L650.30 189.00 L652.19 188.80 L654.08 188.60 L655.96 188.39 L657.85 188.18 L659.74 187.97 L661.63 187.76 L663.52 187.55 L665.40 187.34 L667.29 187.13 L669.18 186.91 L671.07 186.70 L672.96 186.49 L674.84 186.27 L676.73 186.05 L678.62 185.84 L680.51 185.62 L682.40 185.40 L684.28 185.19 L686.17 184.97 L688.06 184.75 L689.95 184.53 L691.84 184.32 L693.72 184.10 L695.61 183.89 L697.50 183.68 L699.39 183.46 L701.28 183.25 L703.16 183.05 L705.05 182.84 L706.94 182.64 L708.83 182.44 L710.72 182.24 L712.60 182.05 L714.49 181.86 L716.38 181.68 L718.27 181.50 L720.16 181.32 L722.05 181.16 L723.93 181.00 L725.82 180.84 L727.71 180.70 L729.60 180.56 L731.49 180.43 L733.37 180.31 L735.26 180.20 L737.15 180.09 L739.04 180.00 L740.93 179.92 L742.81 179.86 L744.70 179.80 L746.59 179.76 L748.48 179.73 L750.37 179.71 L752.25 179.71 L754.14 179.73 L756.03 179.76 L757.92 179.80 L759.81 179.86 L761.69 179.94 L763.58 180.04 L765.47 180.15 L767.36 180.28 L769.25 180.42 L771.13 180.59 L773.02 180.77 L774.91 180.97 L776.80 181.18 L778.69 181.41 L780.57 181.66 L782.46 181.93 L784.35 182.21 L786.24 182.51 L788.13 182.82 L790.01 183.14 L791.90 183.48 L793.79 183.83 L795.68 184.19 L797.57 184.56 L799.46 184.93 L801.34 185.31 L803.23 185.69 L805.12 186.07 L807.01 186.46 L808.90 186.83 L810.78 187.20 L812.67 187.56 L814.56 187.91 L816.45 188.23 L818.34 188.54 L820.22 188.82 L822.11 189.07 L824.00 189.29" fill="none" stroke="#a800ff" stroke-width="2.15" stroke-linejoin="round" stroke-linecap="butt" clip-path="url(#c2)"/>
<path d="M484.15 99.04 L486.04 101.55 L487.93 104.04 L489.81 106.50 L491.70 108.93 L493.59 111.32 L495.48 113.69 L497.37 116.01 L499.25 118.30 L501.14 120.54 L503.03 122.74 L504.92 124.89 L506.81 126.99 L508.69 129.05 L510.58 131.05 L512.47 133.01 L514.36 134.91 L516.25 136.75 L518.13 138.55 L520.02 140.29 L521.91 141.97 L523.80 143.60 L525.69 145.17 L527.58 146.69 L529.46 148.16 L531.35 149.57 L533.24 150.92 L535.13 152.22 L537.02 153.47 L538.90 154.66 L540.79 155.80 L542.68 156.89 L544.57 157.93 L546.46 158.92 L548.34 159.86 L550.23 160.74 L552.12 161.59 L554.01 162.38 L555.90 163.13 L557.78 163.83 L559.67 164.49 L561.56 165.10 L563.45 165.68 L565.34 166.21 L567.22 166.70 L569.11 167.15 L571.00 167.57 L572.89 167.95 L574.78 168.30 L576.66 168.61 L578.55 168.88 L580.44 169.13 L582.33 169.34 L584.22 169.53 L586.11 169.68 L587.99 169.81 L589.88 169.92 L591.77 169.99 L593.66 170.05 L595.55 170.08 L597.43 170.08 L599.32 170.07 L601.21 170.04 L603.10 169.99 L604.99 169.92 L606.87 169.83 L608.76 169.72 L610.65 169.61 L612.54 169.47 L614.43 169.32 L616.31 169.17 L618.20 168.99 L620.09 168.81 L621.98 168.62 L623.87 168.42 L625.75 168.21 L627.64 167.99 L629.53 167.76 L631.42 167.53 L633.31 167.29 L635.19 167.05 L637.08 166.80 L638.97 166.54 L640.86 166.29 L642.75 166.03 L644.63 165.77 L646.52 165.51 L648.41 165.24 L650.30 164.98 L652.19 164.71 L654.08 164.45 L655.96 164.18 L657.85 163.92 L659.74 163.66 L661.63 163.40 L663.52 163.14 L665.40 162.88 L667.29 162.63 L669.18 162.38 L671.07 162.14 L672.96 161.90 L674.84 161.66 L676.73 161.43 L678.62 161.21 L680.51 160.99 L682.40 160.77 L684.28 160.57 L686.17 160.37 L688.06 160.17 L689.95 159.99 L691.84 159.81 L693.72 159.64 L695.61 159.47 L697.50 159.32 L699.39 159.17 L701.28 159.04 L703.16 158.91 L705.05 158.79 L706.94 158.68 L708.83 158.59 L710.72 158.50 L712.60 158.42 L714.49 158.36 L716.38 158.30 L718.27 158.26 L720.16 158.23 L722.05 158.22 L723.93 158.21 L725.82 158.22 L727.71 158.24 L729.60 158.27 L731.49 158.32 L733.37 158.38 L735.26 158.46 L737.15 158.55 L739.04 158.65 L740.93 158.77 L742.81 158.90 L744.70 159.05 L746.59 159.22 L748.48 159.40 L750.37 159.59 L752.25 159.80 L754.14 160.03 L756.03 160.27 L757.92 160.52 L759.81 160.80 L761.69 161.08 L763.58 161.39 L765.47 161.70 L767.36 162.04 L769.25 162.38 L771.13 162.74 L773.02 163.12 L774.91 163.51 L776.80 163.91 L778.69 164.32 L780.57 164.75 L782.46 165.19 L784.35 165.63 L786.24 166.09 L788.13 166.56 L790.01 167.03 L791.90 167.51 L793.79 167.99 L795.68 168.48 L797.57 168.96 L799.46 169.45 L801.34 169.94 L803.23 170.43 L805.12 170.90 L807.01 171.38 L808.90 171.84 L810.78 172.29 L812.67 172.72 L814.56 173.13 L816.45 173.53 L818.34 173.90 L820.22 174.24 L822.11 174.55 L824.00 174.83" fill="none" stroke="#0a84ff" stroke-width="2.15" stroke-linejoin="round" stroke-linecap="butt" clip-path="url(#c2)"/>
<path d="M484.15 64.50 L486.04 65.75 L487.93 67.01 L489.81 68.26 L491.70 69.50 L493.59 70.74 L495.48 71.96 L497.37 73.18 L499.25 74.38 L501.14 75.58 L503.03 76.75 L504.92 77.91 L506.81 79.05 L508.69 80.17 L510.58 81.27 L512.47 82.35 L514.36 83.41 L516.25 84.44 L518.13 85.45 L520.02 86.44 L521.91 87.40 L523.80 88.33 L525.69 89.23 L527.58 90.11 L529.46 90.96 L531.35 91.78 L533.24 92.57 L535.13 93.33 L537.02 94.06 L538.90 94.76 L540.79 95.43 L542.68 96.07 L544.57 96.68 L546.46 97.26 L548.34 97.81 L550.23 98.33 L552.12 98.83 L554.01 99.29 L555.90 99.72 L557.78 100.12 L559.67 100.50 L561.56 100.84 L563.45 101.16 L565.34 101.45 L567.22 101.71 L569.11 101.95 L571.00 102.16 L572.89 102.34 L574.78 102.50 L576.66 102.64 L578.55 102.75 L580.44 102.84 L582.33 102.91 L584.22 102.96 L586.11 102.98 L587.99 102.99 L589.88 102.97 L591.77 102.94 L593.66 102.89 L595.55 102.83 L597.43 102.75 L599.32 102.65 L601.21 102.54 L603.10 102.42 L604.99 102.29 L606.87 102.14 L608.76 101.98 L610.65 101.82 L612.54 101.64 L614.43 101.46 L616.31 101.27 L618.20 101.08 L620.09 100.88 L621.98 100.68 L623.87 100.47 L625.75 100.26 L627.64 100.05 L629.53 99.84 L631.42 99.64 L633.31 99.43 L635.19 99.22 L637.08 99.02 L638.97 98.82 L640.86 98.62 L642.75 98.44 L644.63 98.25 L646.52 98.08 L648.41 97.91 L650.30 97.75 L652.19 97.60 L654.08 97.45 L655.96 97.32 L657.85 97.20 L659.74 97.09 L661.63 97.00 L663.52 96.91 L665.40 96.84 L667.29 96.78 L669.18 96.74 L671.07 96.71 L672.96 96.70 L674.84 96.70 L676.73 96.71 L678.62 96.75 L680.51 96.80 L682.40 96.86 L684.28 96.94 L686.17 97.04 L688.06 97.16 L689.95 97.30 L691.84 97.45 L693.72 97.62 L695.61 97.80 L697.50 98.01 L699.39 98.23 L701.28 98.47 L703.16 98.73 L705.05 99.00 L706.94 99.30 L708.83 99.61 L710.72 99.94 L712.60 100.28 L714.49 100.64 L716.38 101.02 L718.27 101.42 L720.16 101.83 L722.05 102.26 L723.93 102.70 L725.82 103.16 L727.71 103.63 L729.60 104.12 L731.49 104.62 L733.37 105.14 L735.26 105.67 L737.15 106.21 L739.04 106.77 L740.93 107.34 L742.81 107.92 L744.70 108.51 L746.59 109.12 L748.48 109.74 L750.37 110.36 L752.25 111.00 L754.14 111.64 L756.03 112.30 L757.92 112.96 L759.81 113.64 L761.69 114.32 L763.58 115.01 L765.47 115.71 L767.36 116.41 L769.25 117.13 L771.13 117.85 L773.02 118.58 L774.91 119.31 L776.80 120.05 L778.69 120.80 L780.57 121.56 L782.46 122.32 L784.35 123.10 L786.24 123.87 L788.13 124.66 L790.01 125.45 L791.90 126.26 L793.79 127.07 L795.68 127.89 L797.57 128.73 L799.46 129.57 L801.34 130.43 L803.23 131.30 L805.12 132.18 L807.01 133.08 L808.90 133.99 L810.78 134.92 L812.67 135.88 L814.56 136.85 L816.45 137.85 L818.34 138.87 L820.22 139.91 L822.11 140.99 L824.00 142.10" fill="none" stroke="#00f0c8" stroke-width="2.15" stroke-linejoin="round" stroke-linecap="butt" clip-path="url(#c2)"/>
<path d="M484.15 29.61 L486.04 29.84 L487.93 30.05 L489.81 30.25 L491.70 30.43 L493.59 30.60 L495.48 30.75 L497.37 30.88 L499.25 31.00 L501.14 31.11 L503.03 31.20 L504.92 31.27 L506.81 31.33 L508.69 31.38 L510.58 31.42 L512.47 31.44 L514.36 31.46 L516.25 31.46 L518.13 31.45 L520.02 31.42 L521.91 31.39 L523.80 31.35 L525.69 31.30 L527.58 31.24 L529.46 31.17 L531.35 31.09 L533.24 31.01 L535.13 30.91 L537.02 30.82 L538.90 30.71 L540.79 30.60 L542.68 30.48 L544.57 30.36 L546.46 30.23 L548.34 30.10 L550.23 29.97 L552.12 29.83 L554.01 29.69 L555.90 29.55 L557.78 29.40 L559.67 29.25 L561.56 29.10 L563.45 28.95 L565.34 28.80 L567.22 28.65 L569.11 28.50 L571.00 28.35 L572.89 28.20 L574.78 28.05 L576.66 27.91 L578.55 27.76 L580.44 27.62 L582.33 27.48 L584.22 27.34 L586.11 27.21 L587.99 27.08 L589.88 26.95 L591.77 26.83 L593.66 26.71 L595.55 26.59 L597.43 26.48 L599.32 26.38 L601.21 26.28 L603.10 26.18 L604.99 26.09 L606.87 26.01 L608.76 25.93 L610.65 25.86 L612.54 25.79 L614.43 25.74 L616.31 25.68 L618.20 25.64 L620.09 25.60 L621.98 25.57 L623.87 25.55 L625.75 25.53 L627.64 25.53 L629.53 25.53 L631.42 25.54 L633.31 25.55 L635.19 25.58 L637.08 25.61 L638.97 25.65 L640.86 25.70 L642.75 25.76 L644.63 25.83 L646.52 25.90 L648.41 25.99 L650.30 26.08 L652.19 26.19 L654.08 26.30 L655.96 26.42 L657.85 26.55 L659.74 26.69 L661.63 26.84 L663.52 27.00 L665.40 27.17 L667.29 27.35 L669.18 27.54 L671.07 27.74 L672.96 27.95 L674.84 28.17 L676.73 28.40 L678.62 28.64 L680.51 28.89 L682.40 29.16 L684.28 29.43 L686.17 29.71 L688.06 30.01 L689.95 30.31 L691.84 30.63 L693.72 30.95 L695.61 31.29 L697.50 31.64 L699.39 32.00 L701.28 32.38 L703.16 32.76 L705.05 33.16 L706.94 33.57 L708.83 33.99 L710.72 34.42 L712.60 34.87 L714.49 35.33 L716.38 35.80 L718.27 36.28 L720.16 36.78 L722.05 37.29 L723.93 37.81 L725.82 38.35 L727.71 38.90 L729.60 39.47 L731.49 40.05 L733.37 40.64 L735.26 41.25 L737.15 41.88 L739.04 42.51 L740.93 43.17 L742.81 43.84 L744.70 44.52 L746.59 45.23 L748.48 45.94 L750.37 46.68 L752.25 47.43 L754.14 48.20 L756.03 48.98 L757.92 49.79 L759.81 50.61 L761.69 51.45 L763.58 52.31 L765.47 53.18 L767.36 54.08 L769.25 54.99 L771.13 55.93 L773.02 56.88 L774.91 57.86 L776.80 58.85 L778.69 59.86 L780.57 60.90 L782.46 61.96 L784.35 63.04 L786.24 64.14 L788.13 65.26 L790.01 66.40 L791.90 67.57 L793.79 68.76 L795.68 69.97 L797.57 71.21 L799.46 72.47 L801.34 73.75 L803.23 75.05 L805.12 76.39 L807.01 77.74 L808.90 79.12 L810.78 80.52 L812.67 81.95 L814.56 83.40 L816.45 84.88 L818.34 86.38 L820.22 87.91 L822.11 89.47 L824.00 91.04" fill="none" stroke="#14ff00" stroke-width="2.15" stroke-linejoin="round" stroke-linecap="butt" clip-path="url(#c2)"/>
<path d="M484.15 16.27 L486.04 16.13 L487.93 15.98 L489.81 15.83 L491.70 15.67 L493.59 15.51 L495.48 15.35 L497.37 15.18 L499.25 15.02 L501.14 14.85 L503.03 14.68 L504.92 14.51 L506.81 14.34 L508.69 14.17 L510.58 14.01 L512.47 13.84 L514.36 13.68 L516.25 13.52 L518.13 13.36 L520.02 13.20 L521.91 13.05 L523.80 12.90 L525.69 12.75 L527.58 12.61 L529.46 12.47 L531.35 12.33 L533.24 12.20 L535.13 12.08 L537.02 11.95 L538.90 11.83 L540.79 11.72 L542.68 11.61 L544.57 11.50 L546.46 11.40 L548.34 11.30 L550.23 11.21 L552.12 11.12 L554.01 11.03 L555.90 10.95 L557.78 10.88 L559.67 10.80 L561.56 10.74 L563.45 10.67 L565.34 10.61 L567.22 10.55 L569.11 10.50 L571.00 10.45 L572.89 10.41 L574.78 10.36 L576.66 10.32 L578.55 10.29 L580.44 10.25 L582.33 10.22 L584.22 10.19 L586.11 10.17 L587.99 10.15 L589.88 10.13 L591.77 10.11 L593.66 10.10 L595.55 10.08 L597.43 10.07 L599.32 10.06 L601.21 10.06 L603.10 10.05 L604.99 10.05 L606.87 10.05 L608.76 10.04 L610.65 10.05 L612.54 10.05 L614.43 10.05 L616.31 10.06 L618.20 10.06 L620.09 10.07 L621.98 10.08 L623.87 10.09 L625.75 10.10 L627.64 10.11 L629.53 10.13 L631.42 10.14 L633.31 10.15 L635.19 10.17 L637.08 10.19 L638.97 10.21 L640.86 10.23 L642.75 10.25 L644.63 10.27 L646.52 10.30 L648.41 10.32 L650.30 10.35 L652.19 10.38 L654.08 10.41 L655.96 10.44 L657.85 10.47 L659.74 10.51 L661.63 10.55 L663.52 10.59 L665.40 10.63 L667.29 10.68 L669.18 10.73 L671.07 10.78 L672.96 10.84 L674.84 10.90 L676.73 10.96 L678.62 11.03 L680.51 11.10 L682.40 11.18 L684.28 11.26 L686.17 11.35 L688.06 11.44 L689.95 11.54 L691.84 11.64 L693.72 11.75 L695.61 11.86 L697.50 11.98 L699.39 12.11 L701.28 12.25 L703.16 12.39 L705.05 12.54 L706.94 12.70 L708.83 12.87 L710.72 13.05 L712.60 13.23 L714.49 13.43 L716.38 13.63 L718.27 13.85 L720.16 14.07 L722.05 14.31 L723.93 14.56 L725.82 14.82 L727.71 15.09 L729.60 15.37 L731.49 15.66 L733.37 15.97 L735.26 16.29 L737.15 16.63 L739.04 16.98 L740.93 17.34 L742.81 17.71 L744.70 18.11 L746.59 18.51 L748.48 18.93 L750.37 19.37 L752.25 19.82 L754.14 20.29 L756.03 20.77 L757.92 21.27 L759.81 21.79 L761.69 22.33 L763.58 22.88 L765.47 23.44 L767.36 24.03 L769.25 24.63 L771.13 25.25 L773.02 25.89 L774.91 26.55 L776.80 27.22 L778.69 27.91 L780.57 28.62 L782.46 29.35 L784.35 30.09 L786.24 30.85 L788.13 31.63 L790.01 32.43 L791.90 33.24 L793.79 34.08 L795.68 34.92 L797.57 35.79 L799.46 36.67 L801.34 37.57 L803.23 38.48 L805.12 39.41 L807.01 40.35 L808.90 41.31 L810.78 42.28 L812.67 43.27 L814.56 44.26 L816.45 45.27 L818.34 46.29 L820.22 47.32 L822.11 48.37 L824.00 49.42" fill="none" stroke="#ff8c00" stroke-width="2.15" stroke-linejoin="round" stroke-linecap="butt" clip-path="url(#c2)"/>
<path d="M87.90 523.00 L90.02 523.00 L92.15 523.00 L94.27 523.00 L96.39 523.00 L98.52 523.00 L100.64 523.00 L102.76 523.00 L104.88 523.00 L107.01 523.00 L109.13 523.00 L111.25 523.00 L113.38 523.00 L115.50 523.00 L117.62 523.00 L119.75 523.00 L121.87 523.00 L123.99 523.00 L126.12 523.00 L128.24 523.00 L130.36 523.00 L132.49 523.00 L134.61 523.00 L136.73 523.00 L138.85 523.00 L140.98 523.00 L143.10 523.00 L145.22 523.00 L147.35 523.00 L149.47 523.00 L151.59 523.00 L153.72 523.00 L155.84 523.00 L157.96 523.00 L160.09 523.00 L162.21 523.00 L164.33 523.00 L166.46 523.00 L168.58 523.00 L170.70 523.00 L172.83 523.00 L174.95 523.00 L177.07 523.00 L179.19 523.00 L181.32 523.00 L183.44 523.00 L185.56 522.99 L187.69 522.99 L189.81 522.99 L191.93 522.99 L194.06 522.98 L196.18 522.98 L198.30 522.97 L200.43 522.96 L202.55 522.95 L204.67 522.93 L206.80 522.91 L208.92 522.88 L211.04 522.85 L213.16 522.81 L215.29 522.76 L217.41 522.69 L219.53 522.61 L221.66 522.51 L223.78 522.39 L225.90 522.24 L228.03 522.06 L230.15 521.85 L232.27 521.59 L234.40 521.28 L236.52 520.91 L238.64 520.47 L240.77 519.96 L242.89 519.35 L245.01 518.65 L247.13 517.83 L249.26 516.89 L251.38 515.81 L253.50 514.57 L255.63 513.16 L257.75 511.57 L259.87 509.77 L262.00 507.76 L264.12 505.51 L266.24 503.02 L268.37 500.27 L270.49 497.25 L272.61 493.95 L274.73 490.35 L276.86 486.46 L278.98 482.27 L281.10 477.77 L283.23 472.98 L285.35 467.90 L287.47 462.53 L289.60 456.88 L291.72 450.98 L293.84 444.84 L295.97 438.48 L298.09 431.93 L300.21 425.22 L302.34 418.37 L304.46 411.42 L306.58 404.40 L308.71 397.35 L310.83 390.30 L312.95 383.28 L315.07 376.33 L317.20 369.48 L319.32 362.77 L321.44 356.22 L323.57 349.86 L325.69 343.72 L327.81 337.82 L329.94 332.17 L332.06 326.80 L334.18 321.72 L336.31 316.93 L338.43 312.43 L340.55 308.24 L342.68 304.35 L344.80 300.75 L346.92 297.45 L349.04 294.43 L351.17 291.68 L353.29 289.19 L355.41 286.94 L357.54 284.93 L359.66 283.13 L361.78 281.54 L363.91 280.13 L366.03 278.89 L368.15 277.81 L370.28 276.87 L372.40 276.05 L374.52 275.35 L376.65 274.74 L378.77 274.23 L380.89 273.79 L383.01 273.42 L385.14 273.11 L387.26 272.85 L389.38 272.64 L391.51 272.46 L393.63 272.31 L395.75 272.19 L397.88 272.09 L400.00 272.01 L402.12 271.94 L404.25 271.89 L406.37 271.85 L408.49 271.82 L410.62 271.79 L412.74 271.77 L414.86 271.75 L416.98 271.74 L419.11 271.73 L421.23 271.72 L423.35 271.72 L425.48 271.71 L427.60 271.71" fill="none" stroke="#000000" stroke-width="2.15" stroke-linejoin="round" stroke-linecap="butt" clip-path="url(#c3)"/>
<path d="M87.90 523.00 L90.02 523.00 L92.15 523.00 L94.27 523.00 L96.39 523.00 L98.52 523.00 L100.64 523.00 L102.76 523.00 L104.88 523.00 L107.01 523.00 L109.13 523.00 L111.25 523.00 L113.38 523.00 L115.50 523.00 L117.62 523.00 L119.75 523.00 L121.87 523.00 L123.99 523.00 L126.12 523.00 L128.24 523.00 L130.36 523.00 L132.49 523.00 L134.61 523.00 L136.73 523.00 L138.85 523.00 L140.98 523.00 L143.10 523.00 L145.22 523.00 L147.35 523.00 L149.47 523.00 L151.59 523.00 L153.72 523.00 L155.84 523.00 L157.96 523.00 L160.09 523.00 L162.21 523.00 L164.33 523.00 L166.46 523.00 L168.58 523.00 L170.70 523.00 L172.83 523.00 L174.95 523.00 L177.07 523.00 L179.19 523.00 L181.32 523.00 L183.44 523.00 L185.56 523.00 L187.69 523.00 L189.81 523.00 L191.93 523.00 L194.06 523.00 L196.18 523.00 L198.30 523.00 L200.43 523.00 L202.55 523.00 L204.67 523.00 L206.80 523.00 L208.92 523.00 L211.04 522.99 L213.16 522.99 L215.29 522.99 L217.41 522.98 L219.53 522.98 L221.66 522.97 L223.78 522.96 L225.90 522.95 L228.03 522.94 L230.15 522.92 L232.27 522.89 L234.40 522.86 L236.52 522.83 L238.64 522.78 L240.77 522.72 L242.89 522.64 L245.01 522.55 L247.13 522.44 L249.26 522.31 L251.38 522.14 L253.50 521.94 L255.63 521.70 L257.75 521.41 L259.87 521.06 L262.00 520.65 L264.12 520.17 L266.24 519.61 L268.37 518.94 L270.49 518.17 L272.61 517.28 L274.73 516.26 L276.86 515.08 L278.98 513.74 L281.10 512.23 L283.23 510.51 L285.35 508.59 L287.47 506.44 L289.60 504.05 L291.72 501.40 L293.84 498.49 L295.97 495.30 L298.09 491.82 L300.21 488.05 L302.34 483.98 L304.46 479.61 L306.58 474.93 L308.71 469.97 L310.83 464.71 L312.95 459.17 L315.07 453.37 L317.20 447.32 L319.32 441.05 L321.44 434.58 L323.57 427.92 L325.69 421.13 L327.81 414.21 L329.94 407.22 L332.06 400.17 L334.18 393.12 L336.31 386.08 L338.43 379.10 L340.55 372.20 L342.68 365.43 L344.80 358.81 L346.92 352.38 L349.04 346.15 L351.17 340.15 L353.29 334.40 L355.41 328.92 L357.54 323.72 L359.66 318.81 L361.78 314.19 L363.91 309.88 L366.03 305.87 L368.15 302.16 L370.28 298.74 L372.40 295.60 L374.52 292.75 L376.65 290.15 L378.77 287.81 L380.89 285.71 L383.01 283.83 L385.14 282.15 L387.26 280.67 L389.38 279.37 L391.51 278.23 L393.63 277.23 L395.75 276.36 L397.88 275.62 L400.00 274.97 L402.12 274.43 L404.25 273.96 L406.37 273.56 L408.49 273.23 L410.62 272.95 L412.74 272.72 L414.86 272.52 L416.98 272.36 L419.11 272.23 L421.23 272.13 L423.35 272.04 L425.48 271.97 L427.60 271.91" fill="none" stroke="#2d00f5" stroke-width="2.15" stroke-linejoin="round" stroke-linecap="butt" clip-path="url(#c3)"/>
<path d="M87.90 523.00 L90.02 523.00 L92.15 523.00 L94.27 523.00 L96.39 523.00 L98.52 523.00 L100.64 523.00 L102.76 523.00 L104.88 523.00 L107.01 523.00 L109.13 523.00 L111.25 523.00 L113.38 523.00 L115.50 523.00 L117.62 523.00 L119.75 523.00 L121.87 523.00 L123.99 523.00 L126.12 523.00 L128.24 523.00 L130.36 523.00 L132.49 523.00 L134.61 523.00 L136.73 523.00 L138.85 523.00 L140.98 523.00 L143.10 523.00 L145.22 523.00 L147.35 523.00 L149.47 523.00 L151.59 523.00 L153.72 523.00 L155.84 523.00 L157.96 523.00 L160.09 523.00 L162.21 523.00 L164.33 523.00 L166.46 523.00 L168.58 523.00 L170.70 523.00 L172.83 523.00 L174.95 523.00 L177.07 523.00 L179.19 523.00 L181.32 523.00 L183.44 523.00 L185.56 523.00 L187.69 523.00 L189.81 523.00 L191.93 523.00 L194.06 523.00 L196.18 523.00 L198.30 523.00 L200.43 523.00 L202.55 523.00 L204.67 523.00 L206.80 523.00 L208.92 523.00 L211.04 523.00 L213.16 523.00 L215.29 523.00 L217.41 523.00 L219.53 523.00 L221.66 523.00 L223.78 523.00 L225.90 523.00 L228.03 523.00 L230.15 523.00 L232.27 523.00 L234.40 522.99 L236.52 522.99 L238.64 522.99 L240.77 522.98 L242.89 522.98 L245.01 522.97 L247.13 522.96 L249.26 522.95 L251.38 522.94 L253.50 522.92 L255.63 522.90 L257.75 522.87 L259.87 522.83 L262.00 522.79 L264.12 522.73 L266.24 522.66 L268.37 522.57 L270.49 522.47 L272.61 522.34 L274.73 522.18 L276.86 521.98 L278.98 521.75 L281.10 521.47 L283.23 521.14 L285.35 520.74 L287.47 520.27 L289.60 519.73 L291.72 519.08 L293.84 518.34 L295.97 517.47 L298.09 516.47 L300.21 515.33 L302.34 514.03 L304.46 512.55 L306.58 510.87 L308.71 508.99 L310.83 506.89 L312.95 504.55 L315.07 501.95 L317.20 499.10 L319.32 495.96 L321.44 492.54 L323.57 488.83 L325.69 484.82 L327.81 480.51 L329.94 475.89 L332.06 470.98 L334.18 465.78 L336.31 460.30 L338.43 454.55 L340.55 448.55 L342.68 442.32 L344.80 435.89 L346.92 429.27 L349.04 422.50 L351.17 415.60 L353.29 408.62 L355.41 401.58 L357.54 394.53 L359.66 387.48 L361.78 380.49 L363.91 373.57 L366.03 366.78 L368.15 360.12 L370.28 353.65 L372.40 347.38 L374.52 341.33 L376.65 335.53 L378.77 329.99 L380.89 324.73 L383.01 319.77 L385.14 315.09 L387.26 310.72 L389.38 306.65 L391.51 302.88 L393.63 299.40 L395.75 296.21 L397.88 293.30 L400.00 290.65 L402.12 288.26 L404.25 286.11 L406.37 284.19 L408.49 282.47 L410.62 280.96 L412.74 279.62 L414.86 278.44 L416.98 277.42 L419.11 276.53 L421.23 275.76 L423.35 275.09 L425.48 274.53 L427.60 274.05" fill="none" stroke="#a800ff" stroke-width="2.15" stroke-linejoin="round" stroke-linecap="butt" clip-path="url(#c3)"/>
<path d="M87.90 523.00 L90.02 523.00 L92.15 523.00 L94.27 523.00 L96.39 523.00 L98.52 523.00 L100.64 523.00 L102.76 523.00 L104.88 523.00 L107.01 523.00 L109.13 523.00 L111.25 523.00 L113.38 523.00 L115.50 523.00 L117.62 523.00 L119.75 523.00 L121.87 523.00 L123.99 523.00 L126.12 523.00 L128.24 523.00 L130.36 523.00 L132.49 523.00 L134.61 523.00 L136.73 523.00 L138.85 523.00 L140.98 523.00 L143.10 523.00 L145.22 523.00 L147.35 523.00 L149.47 523.00 L151.59 523.00 L153.72 523.00 L155.84 523.00 L157.96 523.00 L160.09 523.00 L162.21 523.00 L164.33 523.00 L166.46 523.00 L168.58 523.00 L170.70 523.00 L172.83 523.00 L174.95 523.00 L177.07 523.00 L179.19 523.00 L181.32 523.00 L183.44 523.00 L185.56 523.00 L187.69 523.00 L189.81 523.00 L191.93 523.00 L194.06 523.00 L196.18 523.00 L198.30 523.00 L200.43 523.00 L202.55 523.00 L204.67 523.00 L206.80 523.00 L208.92 523.00 L211.04 523.00 L213.16 523.00 L215.29 523.00 L217.41 523.00 L219.53 523.00 L221.66 523.00 L223.78 523.00 L225.90 523.00 L228.03 523.00 L230.15 523.00 L232.27 523.00 L234.40 523.00 L236.52 523.00 L238.64 523.00 L240.77 523.00 L242.89 523.00 L245.01 523.00 L247.13 522.99 L249.26 522.99 L251.38 522.99 L253.50 522.99 L255.63 522.98 L257.75 522.98 L259.87 522.97 L262.00 522.96 L264.12 522.95 L266.24 522.93 L268.37 522.91 L270.49 522.89 L272.61 522.86 L274.73 522.82 L276.86 522.77 L278.98 522.70 L281.10 522.63 L283.23 522.53 L285.35 522.42 L287.47 522.27 L289.60 522.10 L291.72 521.89 L293.84 521.64 L295.97 521.34 L298.09 520.99 L300.21 520.56 L302.34 520.07 L304.46 519.48 L306.58 518.80 L308.71 518.01 L310.83 517.09 L312.95 516.04 L315.07 514.83 L317.20 513.46 L319.32 511.90 L321.44 510.15 L323.57 508.18 L325.69 505.98 L327.81 503.54 L329.94 500.84 L332.06 497.88 L334.18 494.63 L336.31 491.09 L338.43 487.26 L340.55 483.13 L342.68 478.70 L344.80 473.96 L346.92 468.94 L349.04 463.62 L351.17 458.03 L353.29 452.18 L355.41 446.09 L357.54 439.77 L359.66 433.26 L361.78 426.58 L363.91 419.75 L366.03 412.82 L368.15 405.81 L370.28 398.76 L372.40 391.70 L374.52 384.68 L376.65 377.71 L378.77 370.84 L380.89 364.10 L383.01 357.51 L385.14 351.11 L387.26 344.93 L389.38 338.98 L391.51 333.28 L393.63 327.86 L395.75 322.71 L397.88 317.86 L400.00 313.31 L402.12 309.06 L404.25 305.10 L406.37 301.45 L408.49 298.09 L410.62 295.01 L412.74 292.21 L414.86 289.67 L416.98 287.37 L419.11 285.31 L421.23 283.48 L423.35 281.84 L425.48 280.40 L427.60 279.13" fill="none" stroke="#0a84ff" stroke-width="2.15" stroke-linejoin="round" stroke-linecap="butt" clip-path="url(#c3)"/>
<path d="M87.90 523.00 L90.02 523.00 L92.15 523.00 L94.27 523.00 L96.39 523.00 L98.52 523.00 L100.64 523.00 L102.76 523.00 L104.88 523.00 L107.01 523.00 L109.13 523.00 L111.25 523.00 L113.38 523.00 L115.50 523.00 L117.62 523.00 L119.75 523.00 L121.87 523.00 L123.99 523.00 L126.12 523.00 L128.24 523.00 L130.36 523.00 L132.49 523.00 L134.61 523.00 L136.73 523.00 L138.85 523.00 L140.98 523.00 L143.10 523.00 L145.22 523.00 L147.35 523.00 L149.47 523.00 L151.59 523.00 L153.72 523.00 L155.84 523.00 L157.96 523.00 L160.09 523.00 L162.21 523.00 L164.33 523.00 L166.46 523.00 L168.58 523.00 L170.70 523.00 L172.83 523.00 L174.95 523.00 L177.07 523.00 L179.19 523.00 L181.32 523.00 L183.44 523.00 L185.56 523.00 L187.69 523.00 L189.81 523.00 L191.93 523.00 L194.06 523.00 L196.18 523.00 L198.30 523.00 L200.43 523.00 L202.55 523.00 L204.67 523.00 L206.80 523.00 L208.92 523.00 L211.04 523.00 L213.16 523.00 L215.29 523.00 L217.41 523.00 L219.53 523.00 L221.66 523.00 L223.78 523.00 L225.90 523.00 L228.03 523.00 L230.15 523.00 L232.27 523.00 L234.40 523.00 L236.52 523.00 L238.64 523.00 L240.77 523.00 L242.89 523.00 L245.01 523.00 L247.13 523.00 L249.26 523.00 L251.38 523.00 L253.50 523.00 L255.63 523.00 L257.75 523.00 L259.87 523.00 L262.00 522.99 L264.12 522.99 L266.24 522.99 L268.37 522.98 L270.49 522.98 L272.61 522.97 L274.73 522.96 L276.86 522.95 L278.98 522.94 L281.10 522.92 L283.23 522.89 L285.35 522.86 L287.47 522.83 L289.60 522.78 L291.72 522.72 L293.84 522.64 L295.97 522.55 L298.09 522.44 L300.21 522.31 L302.34 522.14 L304.46 521.94 L306.58 521.70 L308.71 521.41 L310.83 521.06 L312.95 520.65 L315.07 520.17 L317.20 519.61 L319.32 518.94 L321.44 518.17 L323.57 517.28 L325.69 516.26 L327.81 515.08 L329.94 513.74 L332.06 512.23 L334.18 510.51 L336.31 508.59 L338.43 506.44 L340.55 504.05 L342.68 501.40 L344.80 498.49 L346.92 495.30 L349.04 491.82 L351.17 488.05 L353.29 483.98 L355.41 479.61 L357.54 474.93 L359.66 469.97 L361.78 464.71 L363.91 459.17 L366.03 453.37 L368.15 447.32 L370.28 441.05 L372.40 434.58 L374.52 427.92 L376.65 421.13 L378.77 414.21 L380.89 407.22 L383.01 400.17 L385.14 393.12 L387.26 386.08 L389.38 379.10 L391.51 372.20 L393.63 365.43 L395.75 358.81 L397.88 352.38 L400.00 346.15 L402.12 340.15 L404.25 334.40 L406.37 328.92 L408.49 323.72 L410.62 318.81 L412.74 314.19 L414.86 309.88 L416.98 305.87 L419.11 302.16 L421.23 298.74 L423.35 295.60 L425.48 292.75 L427.60 290.15" fill="none" stroke="#00f0c8" stroke-width="2.15" stroke-linejoin="round" stroke-linecap="butt" clip-path="url(#c3)"/>
<path d="M87.90 523.00 L90.02 523.00 L92.15 523.00 L94.27 523.00 L96.39 523.00 L98.52 523.00 L100.64 523.00 L102.76 523.00 L104.88 523.00 L107.01 523.00 L109.13 523.00 L111.25 523.00 L113.38 523.00 L115.50 523.00 L117.62 523.00 L119.75 523.00 L121.87 523.00 L123.99 523.00 L126.12 523.00 L128.24 523.00 L130.36 523.00 L132.49 523.00 L134.61 523.00 L136.73 523.00 L138.85 523.00 L140.98 523.00 L143.10 523.00 L145.22 523.00 L147.35 523.00 L149.47 523.00 L151.59 523.00 L153.72 523.00 L155.84 523.00 L157.96 523.00 L160.09 523.00 L162.21 523.00 L164.33 523.00 L166.46 523.00 L168.58 523.00 L170.70 523.00 L172.83 523.00 L174.95 523.00 L177.07 523.00 L179.19 523.00 L181.32 523.00 L183.44 523.00 L185.56 523.00 L187.69 523.00 L189.81 523.00 L191.93 523.00 L194.06 523.00 L196.18 523.00 L198.30 523.00 L200.43 523.00 L202.55 523.00 L204.67 523.00 L206.80 523.00 L208.92 523.00 L211.04 523.00 L213.16 523.00 L215.29 523.00 L217.41 523.00 L219.53 523.00 L221.66 523.00 L223.78 523.00 L225.90 523.00 L228.03 523.00 L230.15 523.00 L232.27 523.00 L234.40 523.00 L236.52 523.00 L238.64 523.00 L240.77 523.00 L242.89 523.00 L245.01 523.00 L247.13 523.00 L249.26 523.00 L251.38 523.00 L253.50 523.00 L255.63 523.00 L257.75 523.00 L259.87 523.00 L262.00 523.00 L264.12 523.00 L266.24 523.00 L268.37 523.00 L270.49 523.00 L272.61 523.00 L274.73 523.00 L276.86 523.00 L278.98 523.00 L281.10 523.00 L283.23 523.00 L285.35 523.00 L287.47 522.99 L289.60 522.99 L291.72 522.99 L293.84 522.99 L295.97 522.98 L298.09 522.98 L300.21 522.97 L302.34 522.96 L304.46 522.95 L306.58 522.93 L308.71 522.91 L310.83 522.88 L312.95 522.85 L315.07 522.81 L317.20 522.76 L319.32 522.69 L321.44 522.61 L323.57 522.51 L325.69 522.39 L327.81 522.24 L329.94 522.06 L332.06 521.85 L334.18 521.59 L336.31 521.28 L338.43 520.91 L340.55 520.47 L342.68 519.96 L344.80 519.35 L346.92 518.65 L349.04 517.83 L351.17 516.89 L353.29 515.81 L355.41 514.57 L357.54 513.16 L359.66 511.57 L361.78 509.77 L363.91 507.76 L366.03 505.51 L368.15 503.02 L370.28 500.27 L372.40 497.25 L374.52 493.95 L376.65 490.35 L378.77 486.46 L380.89 482.27 L383.01 477.77 L385.14 472.98 L387.26 467.90 L389.38 462.53 L391.51 456.88 L393.63 450.98 L395.75 444.84 L397.88 438.48 L400.00 431.93 L402.12 425.22 L404.25 418.37 L406.37 411.42 L408.49 404.40 L410.62 397.35 L412.74 390.30 L414.86 383.28 L416.98 376.33 L419.11 369.48 L421.23 362.77 L423.35 356.22 L425.48 349.86 L427.60 343.72" fill="none" stroke="#14ff00" stroke-width="2.15" stroke-linejoin="round" stroke-linecap="butt" clip-path="url(#c3)"/>
<path d="M484.15 523.00 L485.57 523.00 L486.98 523.00 L488.40 523.00 L489.81 523.00 L491.23 523.00 L492.65 523.00 L494.06 523.00 L495.48 523.00 L496.89 523.00 L498.31 523.00 L499.73 523.00 L501.14 523.00 L502.56 523.00 L503.97 523.00 L505.39 523.00 L506.81 523.00 L508.22 523.00 L509.64 523.00 L511.05 523.00 L512.47 523.00 L513.89 523.00 L515.30 523.00 L516.72 523.00 L518.13 523.00 L519.55 523.00 L520.97 523.00 L522.38 523.00 L523.80 523.00 L525.22 523.00 L526.63 523.00 L528.05 523.00 L529.46 523.00 L530.88 523.00 L532.30 523.00 L533.71 523.00 L535.13 523.00 L536.54 523.00 L537.96 523.00 L539.38 523.00 L540.79 523.00 L542.21 523.00 L543.62 523.00 L545.04 523.00 L546.46 523.00 L547.87 523.00 L549.29 523.00 L550.70 523.00 L552.12 523.00 L553.54 523.00 L554.95 523.00 L556.37 523.00 L557.78 523.00 L559.20 523.00 L560.62 523.00 L562.03 523.00 L563.45 523.00 L564.86 523.00 L566.28 523.00 L567.70 523.00 L569.11 523.00 L570.53 523.00 L571.94 523.00 L573.36 523.00 L574.78 523.00 L576.19 523.00 L577.61 523.00 L579.02 523.00 L580.44 523.00 L581.86 523.00 L583.27 523.00 L584.69 523.00 L586.11 523.00 L587.52 523.00 L588.94 523.00 L590.35 523.00 L591.77 523.00 L593.19 523.00 L594.60 523.00 L596.02 523.00 L597.43 523.00 L598.85 523.00 L600.27 523.00 L601.68 523.00 L603.10 523.00 L604.51 523.00 L605.93 523.00 L607.35 523.00 L608.76 523.00 L610.18 523.00 L611.59 523.00 L613.01 523.00 L614.43 523.00 L615.84 523.00 L617.26 523.00 L618.67 523.00 L620.09 523.00 L621.51 523.00 L622.92 523.00 L624.34 523.00 L625.75 523.00 L627.17 523.00 L628.59 523.00 L630.00 523.00 L631.42 523.00 L632.83 523.00 L634.25 523.00 L635.67 523.00 L637.08 523.00 L638.50 523.00 L639.91 523.00 L641.33 523.00 L642.75 523.00 L644.16 523.00 L645.58 523.00 L646.99 523.00 L648.41 523.00 L649.83 523.00 L651.24 523.00 L652.66 523.00 L654.08 523.00 L655.49 523.00 L656.91 523.00 L658.32 523.00 L659.74 523.00 L661.16 523.00 L662.57 523.00 L663.99 523.00 L665.40 523.00 L666.82 523.00 L668.24 523.00 L669.65 523.00 L671.07 523.00 L672.48 523.00 L673.90 523.00 L675.32 523.00 L676.73 523.00 L678.15 523.00 L679.56 523.00 L680.98 523.00 L682.40 523.00 L683.81 523.00 L685.23 523.00 L686.64 523.00 L688.06 523.00 L689.48 523.00 L690.89 523.00 L692.31 523.00 L693.72 523.00 L695.14 523.00 L696.56 523.00 L697.97 523.00 L699.39 523.00 L700.80 523.00 L702.22 523.00 L703.64 523.00 L705.05 523.00 L706.47 523.00 L707.88 523.00 L709.30 523.00 L710.72 523.00 L712.13 523.00 L713.55 523.00 L714.96 523.00 L716.38 523.00 L717.80 523.00 L719.21 523.00 L720.63 523.00 L722.05 523.00 L723.46 523.00 L724.88 523.00 L726.29 523.00 L727.71 523.00 L729.13 523.00 L730.54 523.00 L731.96 523.00 L733.37 523.00 L734.79 523.00 L736.21 523.00 L737.62 523.00 L739.04 523.00 L740.45 523.00 L741.87 523.00 L743.29 523.00 L744.70 523.00 L746.12 523.00 L747.53 523.00 L748.95 523.00 L750.37 523.00 L751.78 523.00 L753.20 523.00 L754.61 523.00 L756.03 523.00 L757.45 523.00 L758.86 523.00 L760.28 523.00 L761.69 523.00 L763.11 523.00 L764.53 523.00 L765.94 523.00 L767.36 523.00 L768.77 523.00 L770.19 523.00 L771.61 523.00 L773.02 523.00 L774.44 523.00 L775.85 523.00 L777.27 523.00 L778.69 523.00 L780.10 523.00 L781.52 523.00 L782.93 523.00 L784.35 523.00 L785.77 523.00 L787.18 523.00 L788.60 523.00 L790.01 523.00 L791.43 523.00 L792.85 523.00 L794.26 523.00 L795.68 523.00 L797.10 523.00 L798.51 523.00 L799.93 523.00 L801.34 523.00 L802.76 523.00 L804.18 523.00 L805.59 523.00 L807.01 523.00 L808.42 523.00 L809.84 523.00 L811.26 523.00 L812.67 523.00 L814.09 523.00 L815.50 523.00 L816.92 523.00 L818.34 523.00 L819.75 523.00 L821.17 523.00 L822.58 523.00 L824.00 523.00" fill="none" stroke="#000000" stroke-width="2.15" stroke-linejoin="round" stroke-linecap="butt" clip-path="url(#c4)"/>
<path d="M484.15 523.00 L485.57 523.00 L486.98 523.00 L488.40 523.00 L489.81 523.00 L491.23 523.00 L492.65 523.00 L494.06 523.00 L495.48 523.00 L496.89 523.00 L498.31 523.00 L499.73 523.00 L501.14 523.00 L502.56 523.00 L503.97 523.00 L505.39 523.00 L506.81 523.00 L508.22 523.00 L509.64 523.00 L511.05 523.00 L512.47 523.00 L513.89 523.00 L515.30 523.00 L516.72 523.00 L518.13 523.00 L519.55 523.00 L520.97 523.00 L522.38 523.00 L523.80 523.00 L525.22 523.00 L526.63 523.00 L528.05 523.00 L529.46 523.00 L530.88 523.00 L532.30 523.00 L533.71 523.00 L535.13 523.00 L536.54 523.00 L537.96 523.00 L539.38 523.00 L540.79 523.00 L542.21 523.00 L543.62 523.00 L545.04 523.00 L546.46 523.00 L547.87 523.00 L549.29 523.00 L550.70 523.00 L552.12 523.00 L553.54 523.00 L554.95 523.00 L556.37 523.00 L557.78 523.00 L559.20 523.00 L560.62 523.00 L562.03 523.00 L563.45 523.00 L564.86 523.00 L566.28 523.00 L567.70 523.00 L569.11 523.00 L570.53 523.00 L571.94 523.00 L573.36 523.00 L574.78 523.00 L576.19 523.00 L577.61 523.00 L579.02 523.00 L580.44 523.00 L581.86 523.00 L583.27 523.00 L584.69 523.00 L586.11 523.00 L587.52 523.00 L588.94 523.00 L590.35 523.00 L591.77 523.00 L593.19 523.00 L594.60 523.00 L596.02 523.00 L597.43 523.00 L598.85 523.00 L600.27 523.00 L601.68 523.00 L603.10 523.00 L604.51 523.00 L605.93 523.00 L607.35 523.00 L608.76 523.00 L610.18 523.00 L611.59 523.00 L613.01 523.00 L614.43 523.00 L615.84 523.00 L617.26 523.00 L618.67 523.00 L620.09 523.00 L621.51 523.00 L622.92 523.00 L624.34 523.00 L625.75 523.00 L627.17 523.00 L628.59 523.00 L630.00 523.00 L631.42 523.00 L632.83 523.00 L634.25 523.00 L635.67 523.00 L637.08 523.00 L638.50 523.00 L639.91 523.00 L641.33 523.00 L642.75 523.00 L644.16 523.00 L645.58 523.00 L646.99 523.00 L648.41 523.00 L649.83 523.00 L651.24 523.00 L652.66 523.00 L654.08 523.00 L655.49 523.00 L656.91 523.00 L658.32 523.00 L659.74 523.00 L661.16 523.00 L662.57 523.00 L663.99 523.00 L665.40 523.00 L666.82 523.00 L668.24 523.00 L669.65 523.00 L671.07 523.00 L672.48 523.00 L673.90 523.00 L675.32 523.00 L676.73 523.00 L678.15 523.00 L679.56 523.00 L680.98 523.00 L682.40 523.00 L683.81 523.00 L685.23 523.00 L686.64 523.00 L688.06 523.00 L689.48 523.00 L690.89 523.00 L692.31 523.00 L693.72 523.00 L695.14 523.00 L696.56 523.00 L697.97 523.00 L699.39 523.00 L700.80 523.00 L702.22 523.00 L703.64 523.00 L705.05 523.00 L706.47 523.00 L707.88 523.00 L709.30 523.00 L710.72 523.00 L712.13 523.00 L713.55 523.00 L714.96 523.00 L716.38 523.00 L717.80 523.00 L719.21 523.00 L720.63 523.00 L722.05 523.00 L723.46 523.00 L724.88 523.00 L726.29 523.00 L727.71 523.00 L729.13 523.00 L730.54 523.00 L731.96 523.00 L733.37 523.00 L734.79 523.00 L736.21 523.00 L737.62 523.00 L739.04 523.00 L740.45 523.00 L741.87 523.00 L743.29 523.00 L744.70 523.00 L746.12 523.00 L747.53 523.00 L748.95 523.00 L750.37 523.00 L751.78 523.00 L753.20 523.00 L754.61 523.00 L756.03 523.00 L757.45 523.00 L758.86 523.00 L760.28 523.00 L761.69 523.00 L763.11 523.00 L764.53 523.00 L765.94 523.00 L767.36 523.00 L768.77 523.00 L770.19 523.00 L771.61 523.00 L773.02 523.00 L774.44 523.00 L775.85 523.00 L777.27 523.00 L778.69 523.00 L780.10 523.00 L781.52 523.00 L782.93 523.00 L784.35 523.00 L785.77 523.00 L787.18 523.00 L788.60 523.00 L790.01 523.00 L791.43 523.00 L792.85 523.00 L794.26 523.00 L795.68 523.00 L797.10 523.00 L798.51 523.00 L799.93 523.00 L801.34 523.00 L802.76 523.00 L804.18 523.00 L805.59 523.00 L807.01 523.00 L808.42 523.00 L809.84 523.00 L811.26 523.00 L812.67 523.00 L814.09 523.00 L815.50 523.00 L816.92 523.00 L818.34 523.00 L819.75 523.00 L821.17 523.00 L822.58 523.00 L824.00 523.00" fill="none" stroke="#2d00f5" stroke-width="2.15" stroke-linejoin="round" stroke-linecap="butt" clip-path="url(#c4)"/>
<path d="M484.15 522.98 L485.57 522.98 L486.98 522.98 L488.40 522.99 L489.81 522.99 L491.23 522.99 L492.65 522.99 L494.06 522.99 L495.48 522.99 L496.89 522.99 L498.31 523.00 L499.73 523.00 L501.14 523.00 L502.56 523.00 L503.97 523.00 L505.39 523.00 L506.81 523.00 L508.22 523.00 L509.64 523.00 L511.05 523.00 L512.47 523.00 L513.89 523.00 L515.30 523.00 L516.72 523.00 L518.13 523.00 L519.55 523.00 L520.97 523.00 L522.38 523.00 L523.80 523.00 L525.22 523.00 L526.63 523.00 L528.05 523.00 L529.46 523.00 L530.88 523.00 L532.30 523.00 L533.71 523.00 L535.13 523.00 L536.54 523.00 L537.96 523.00 L539.38 523.00 L540.79 523.00 L542.21 523.00 L543.62 523.00 L545.04 523.00 L546.46 523.00 L547.87 523.00 L549.29 523.00 L550.70 523.00 L552.12 523.00 L553.54 523.00 L554.95 523.00 L556.37 523.00 L557.78 523.00 L559.20 523.00 L560.62 523.00 L562.03 523.00 L563.45 523.00 L564.86 523.00 L566.28 523.00 L567.70 523.00 L569.11 523.00 L570.53 523.00 L571.94 523.00 L573.36 523.00 L574.78 523.00 L576.19 523.00 L577.61 523.00 L579.02 523.00 L580.44 523.00 L581.86 523.00 L583.27 523.00 L584.69 523.00 L586.11 523.00 L587.52 523.00 L588.94 523.00 L590.35 523.00 L591.77 523.00 L593.19 523.00 L594.60 523.00 L596.02 523.00 L597.43 523.00 L598.85 523.00 L600.27 523.00 L601.68 523.00 L603.10 523.00 L604.51 523.00 L605.93 523.00 L607.35 523.00 L608.76 523.00 L610.18 523.00 L611.59 523.00 L613.01 523.00 L614.43 523.00 L615.84 523.00 L617.26 523.00 L618.67 523.00 L620.09 523.00 L621.51 523.00 L622.92 523.00 L624.34 523.00 L625.75 523.00 L627.17 523.00 L628.59 523.00 L630.00 523.00 L631.42 523.00 L632.83 523.00 L634.25 523.00 L635.67 523.00 L637.08 523.00 L638.50 523.00 L639.91 523.00 L641.33 523.00 L642.75 523.00 L644.16 523.00 L645.58 523.00 L646.99 523.00 L648.41 523.00 L649.83 523.00 L651.24 523.00 L652.66 523.00 L654.08 523.00 L655.49 523.00 L656.91 523.00 L658.32 523.00 L659.74 523.00 L661.16 523.00 L662.57 523.00 L663.99 523.00 L665.40 523.00 L666.82 523.00 L668.24 523.00 L669.65 523.00 L671.07 523.00 L672.48 523.00 L673.90 523.00 L675.32 523.00 L676.73 523.00 L678.15 523.00 L679.56 523.00 L680.98 523.00 L682.40 523.00 L683.81 523.00 L685.23 523.00 L686.64 523.00 L688.06 523.00 L689.48 523.00 L690.89 523.00 L692.31 523.00 L693.72 523.00 L695.14 523.00 L696.56 523.00 L697.97 523.00 L699.39 523.00 L700.80 523.00 L702.22 523.00 L703.64 523.00 L705.05 523.00 L706.47 523.00 L707.88 523.00 L709.30 523.00 L710.72 523.00 L712.13 523.00 L713.55 523.00 L714.96 523.00 L716.38 523.00 L717.80 523.00 L719.21 523.00 L720.63 523.00 L722.05 523.00 L723.46 523.00 L724.88 523.00 L726.29 523.00 L727.71 523.00 L729.13 523.00 L730.54 523.00 L731.96 523.00 L733.37 523.00 L734.79 523.00 L736.21 523.00 L737.62 523.00 L739.04 523.00 L740.45 523.00 L741.87 523.00 L743.29 523.00 L744.70 523.00 L746.12 523.00 L747.53 523.00 L748.95 523.00 L750.37 523.00 L751.78 523.00 L753.20 523.00 L754.61 523.00 L756.03 523.00 L757.45 523.00 L758.86 523.00 L760.28 523.00 L761.69 523.00 L763.11 523.00 L764.53 523.00 L765.94 523.00 L767.36 523.00 L768.77 523.00 L770.19 523.00 L771.61 523.00 L773.02 523.00 L774.44 523.00 L775.85 523.00 L777.27 523.00 L778.69 523.00 L780.10 523.00 L781.52 523.00 L782.93 523.00 L784.35 523.00 L785.77 523.00 L787.18 523.00 L788.60 523.00 L790.01 523.00 L791.43 523.00 L792.85 523.00 L794.26 523.00 L795.68 523.00 L797.10 523.00 L798.51 523.00 L799.93 523.00 L801.34 523.00 L802.76 523.00 L804.18 523.00 L805.59 523.00 L807.01 523.00 L808.42 523.00 L809.84 523.00 L811.26 523.00 L812.67 523.00 L814.09 523.00 L815.50 523.00 L816.92 523.00 L818.34 523.00 L819.75 523.00 L821.17 523.00 L822.58 523.00 L824.00 523.00" fill="none" stroke="#a800ff" stroke-width="2.15" stroke-linejoin="round" stroke-linecap="butt" clip-path="url(#c4)"/>
<path d="M484.15 522.80 L485.57 522.83 L486.98 522.85 L488.40 522.87 L489.81 522.89 L491.23 522.90 L492.65 522.92 L494.06 522.93 L495.48 522.94 L496.89 522.95 L498.31 522.95 L499.73 522.96 L501.14 522.97 L502.56 522.97 L503.97 522.98 L505.39 522.98 L506.81 522.98 L508.22 522.99 L509.64 522.99 L511.05 522.99 L512.47 522.99 L513.89 522.99 L515.30 522.99 L516.72 522.99 L518.13 523.00 L519.55 523.00 L520.97 523.00 L522.38 523.00 L523.80 523.00 L525.22 523.00 L526.63 523.00 L528.05 523.00 L529.46 523.00 L530.88 523.00 L532.30 523.00 L533.71 523.00 L535.13 523.00 L536.54 523.00 L537.96 523.00 L539.38 523.00 L540.79 523.00 L542.21 523.00 L543.62 523.00 L545.04 523.00 L546.46 523.00 L547.87 523.00 L549.29 523.00 L550.70 523.00 L552.12 523.00 L553.54 523.00 L554.95 523.00 L556.37 523.00 L557.78 523.00 L559.20 523.00 L560.62 523.00 L562.03 523.00 L563.45 523.00 L564.86 523.00 L566.28 523.00 L567.70 523.00 L569.11 523.00 L570.53 523.00 L571.94 523.00 L573.36 523.00 L574.78 523.00 L576.19 523.00 L577.61 523.00 L579.02 523.00 L580.44 523.00 L581.86 523.00 L583.27 523.00 L584.69 523.00 L586.11 523.00 L587.52 523.00 L588.94 523.00 L590.35 523.00 L591.77 523.00 L593.19 523.00 L594.60 523.00 L596.02 523.00 L597.43 523.00 L598.85 523.00 L600.27 523.00 L601.68 523.00 L603.10 523.00 L604.51 523.00 L605.93 523.00 L607.35 523.00 L608.76 523.00 L610.18 523.00 L611.59 523.00 L613.01 523.00 L614.43 523.00 L615.84 523.00 L617.26 523.00 L618.67 523.00 L620.09 523.00 L621.51 523.00 L622.92 523.00 L624.34 523.00 L625.75 523.00 L627.17 523.00 L628.59 523.00 L630.00 523.00 L631.42 523.00 L632.83 523.00 L634.25 523.00 L635.67 523.00 L637.08 523.00 L638.50 523.00 L639.91 523.00 L641.33 523.00 L642.75 523.00 L644.16 523.00 L645.58 523.00 L646.99 523.00 L648.41 523.00 L649.83 523.00 L651.24 523.00 L652.66 523.00 L654.08 523.00 L655.49 523.00 L656.91 523.00 L658.32 523.00 L659.74 523.00 L661.16 523.00 L662.57 523.00 L663.99 523.00 L665.40 523.00 L666.82 523.00 L668.24 523.00 L669.65 523.00 L671.07 523.00 L672.48 523.00 L673.90 523.00 L675.32 523.00 L676.73 523.00 L678.15 523.00 L679.56 523.00 L680.98 523.00 L682.40 523.00 L683.81 523.00 L685.23 523.00 L686.64 523.00 L688.06 523.00 L689.48 523.00 L690.89 523.00 L692.31 523.00 L693.72 523.00 L695.14 523.00 L696.56 523.00 L697.97 523.00 L699.39 523.00 L700.80 523.00 L702.22 523.00 L703.64 523.00 L705.05 523.00 L706.47 523.00 L707.88 523.00 L709.30 523.00 L710.72 523.00 L712.13 523.00 L713.55 523.00 L714.96 523.00 L716.38 523.00 L717.80 523.00 L719.21 523.00 L720.63 523.00 L722.05 523.00 L723.46 523.00 L724.88 523.00 L726.29 523.00 L727.71 523.00 L729.13 523.00 L730.54 523.00 L731.96 523.00 L733.37 523.00 L734.79 523.00 L736.21 523.00 L737.62 523.00 L739.04 523.00 L740.45 523.00 L741.87 523.00 L743.29 523.00 L744.70 523.00 L746.12 523.00 L747.53 523.00 L748.95 523.00 L750.37 523.00 L751.78 523.00 L753.20 523.00 L754.61 523.00 L756.03 523.00 L757.45 523.00 L758.86 523.00 L760.28 523.00 L761.69 523.00 L763.11 523.00 L764.53 523.00 L765.94 523.00 L767.36 523.00 L768.77 523.00 L770.19 523.00 L771.61 523.00 L773.02 523.00 L774.44 523.00 L775.85 523.00 L777.27 523.00 L778.69 523.00 L780.10 523.00 L781.52 523.00 L782.93 523.00 L784.35 523.00 L785.77 523.00 L787.18 523.00 L788.60 523.00 L790.01 523.00 L791.43 523.00 L792.85 523.00 L794.26 523.00 L795.68 523.00 L797.10 523.00 L798.51 523.00 L799.93 523.00 L801.34 523.00 L802.76 523.00 L804.18 523.00 L805.59 523.00 L807.01 523.00 L808.42 523.00 L809.84 523.00 L811.26 523.00 L812.67 523.00 L814.09 523.00 L815.50 523.00 L816.92 523.00 L818.34 523.00 L819.75 523.00 L821.17 523.00 L822.58 523.00 L824.00 523.00" fill="none" stroke="#0a84ff" stroke-width="2.15" stroke-linejoin="round" stroke-linecap="butt" clip-path="url(#c4)"/>
<path d="M484.15 512.36 L485.57 513.25 L486.98 514.08 L488.40 514.84 L489.81 515.56 L491.23 516.22 L492.65 516.83 L494.06 517.39 L495.48 517.91 L496.89 518.39 L498.31 518.83 L499.73 519.24 L501.14 519.60 L502.56 519.94 L503.97 520.25 L505.39 520.53 L506.81 520.79 L508.22 521.02 L509.64 521.23 L511.05 521.42 L512.47 521.59 L513.89 521.75 L515.30 521.89 L516.72 522.01 L518.13 522.12 L519.55 522.23 L520.97 522.32 L522.38 522.40 L523.80 522.47 L525.22 522.53 L526.63 522.59 L528.05 522.64 L529.46 522.69 L530.88 522.73 L532.30 522.76 L533.71 522.79 L535.13 522.82 L536.54 522.84 L537.96 522.86 L539.38 522.88 L540.79 522.90 L542.21 522.91 L543.62 522.91 L545.04 522.92 L546.46 522.93 L547.87 522.93 L549.29 522.94 L550.70 522.94 L552.12 522.95 L553.54 522.95 L554.95 522.96 L556.37 522.96 L557.78 522.96 L559.20 522.97 L560.62 522.97 L562.03 522.97 L563.45 522.97 L564.86 522.98 L566.28 522.98 L567.70 522.98 L569.11 522.98 L570.53 522.98 L571.94 522.99 L573.36 522.99 L574.78 522.99 L576.19 522.99 L577.61 522.99 L579.02 522.99 L580.44 522.99 L581.86 522.99 L583.27 522.99 L584.69 522.99 L586.11 522.99 L587.52 522.99 L588.94 523.00 L590.35 523.00 L591.77 523.00 L593.19 523.00 L594.60 523.00 L596.02 523.00 L597.43 523.00 L598.85 523.00 L600.27 523.00 L601.68 523.00 L603.10 523.00 L604.51 523.00 L605.93 523.00 L607.35 523.00 L608.76 523.00 L610.18 523.00 L611.59 523.00 L613.01 523.00 L614.43 523.00 L615.84 523.00 L617.26 523.00 L618.67 523.00 L620.09 523.00 L621.51 523.00 L622.92 523.00 L624.34 523.00 L625.75 523.00 L627.17 523.00 L628.59 523.00 L630.00 523.00 L631.42 523.00 L632.83 523.00 L634.25 523.00 L635.67 523.00 L637.08 523.00 L638.50 523.00 L639.91 523.00 L641.33 523.00 L642.75 523.00 L644.16 523.00 L645.58 523.00 L646.99 523.00 L648.41 523.00 L649.83 523.00 L651.24 523.00 L652.66 523.00 L654.08 523.00 L655.49 523.00 L656.91 523.00 L658.32 523.00 L659.74 523.00 L661.16 523.00 L662.57 523.00 L663.99 523.00 L665.40 523.00 L666.82 523.00 L668.24 523.00 L669.65 523.00 L671.07 523.00 L672.48 523.00 L673.90 523.00 L675.32 523.00 L676.73 523.00 L678.15 523.00 L679.56 523.00 L680.98 523.00 L682.40 523.00 L683.81 523.00 L685.23 523.00 L686.64 523.00 L688.06 523.00 L689.48 523.00 L690.89 523.00 L692.31 523.00 L693.72 523.00 L695.14 523.00 L696.56 523.00 L697.97 523.00 L699.39 523.00 L700.80 523.00 L702.22 523.00 L703.64 523.00 L705.05 523.00 L706.47 523.00 L707.88 523.00 L709.30 523.00 L710.72 523.00 L712.13 523.00 L713.55 523.00 L714.96 523.00 L716.38 523.00 L717.80 523.00 L719.21 523.00 L720.63 523.00 L722.05 523.00 L723.46 523.00 L724.88 523.00 L726.29 523.00 L727.71 523.00 L729.13 523.00 L730.54 523.00 L731.96 523.00 L733.37 523.00 L734.79 523.00 L736.21 523.00 L737.62 523.00 L739.04 523.00 L740.45 523.00 L741.87 523.00 L743.29 523.00 L744.70 523.00 L746.12 523.00 L747.53 523.00 L748.95 523.00 L750.37 523.00 L751.78 523.00 L753.20 523.00 L754.61 523.00 L756.03 523.00 L757.45 523.00 L758.86 523.00 L760.28 523.00 L761.69 523.00 L763.11 523.00 L764.53 523.00 L765.94 523.00 L767.36 523.00 L768.77 523.00 L770.19 523.00 L771.61 523.00 L773.02 523.00 L774.44 523.00 L775.85 523.00 L777.27 523.00 L778.69 523.00 L780.10 523.00 L781.52 523.00 L782.93 523.00 L784.35 523.00 L785.77 523.00 L787.18 523.00 L788.60 523.00 L790.01 523.00 L791.43 523.00 L792.85 523.00 L794.26 523.00 L795.68 523.00 L797.10 523.00 L798.51 523.00 L799.93 523.00 L801.34 523.00 L802.76 523.00 L804.18 523.00 L805.59 523.00 L807.01 523.00 L808.42 523.00 L809.84 523.00 L811.26 523.00 L812.67 523.00 L814.09 523.00 L815.50 523.00 L816.92 523.00 L818.34 523.00 L819.75 523.00 L821.17 523.00 L822.58 523.00 L824.00 523.00" fill="none" stroke="#00f0c8" stroke-width="2.15" stroke-linejoin="round" stroke-linecap="butt" clip-path="url(#c4)"/>
<path d="M484.15 303.16 L485.57 305.31 L486.98 307.56 L488.40 309.91 L489.81 312.36 L491.23 314.91 L492.65 317.56 L494.06 320.31 L495.48 323.16 L496.89 326.10 L498.31 329.14 L499.73 332.27 L501.14 335.50 L502.56 338.81 L503.97 342.20 L505.39 345.68 L506.81 349.24 L508.22 352.86 L509.64 356.56 L511.05 360.32 L512.47 364.13 L513.89 368.00 L515.30 371.92 L516.72 375.87 L518.13 379.87 L519.55 383.89 L520.97 387.93 L522.38 391.99 L523.80 396.05 L525.22 400.12 L526.63 404.19 L528.05 408.24 L529.46 412.27 L530.88 416.29 L532.30 420.27 L533.71 424.21 L535.13 428.11 L536.54 431.96 L537.96 435.76 L539.38 439.49 L540.79 443.16 L542.21 445.20 L543.62 447.21 L545.04 449.20 L546.46 451.16 L547.87 453.10 L549.29 455.01 L550.70 456.89 L552.12 458.75 L553.54 460.58 L554.95 462.39 L556.37 464.16 L557.78 465.90 L559.20 467.62 L560.62 469.31 L562.03 470.96 L563.45 472.59 L564.86 474.18 L566.28 475.74 L567.70 477.27 L569.11 478.77 L570.53 480.24 L571.94 481.68 L573.36 483.08 L574.78 484.46 L576.19 485.80 L577.61 487.11 L579.02 488.39 L580.44 489.63 L581.86 490.85 L583.27 492.04 L584.69 493.19 L586.11 494.31 L587.52 495.40 L588.94 496.47 L590.35 497.50 L591.77 498.50 L593.19 499.48 L594.60 500.42 L596.02 501.34 L597.43 502.23 L598.85 503.09 L600.27 503.92 L601.68 504.73 L603.10 505.51 L604.51 506.26 L605.93 506.99 L607.35 507.69 L608.76 508.37 L610.18 509.03 L611.59 509.66 L613.01 510.27 L614.43 510.86 L615.84 511.42 L617.26 511.96 L618.67 512.49 L620.09 512.99 L621.51 513.47 L622.92 513.94 L624.34 514.38 L625.75 514.81 L627.17 515.22 L628.59 515.61 L630.00 515.99 L631.42 516.35 L632.83 516.69 L634.25 517.02 L635.67 517.33 L637.08 517.63 L638.50 517.92 L639.91 518.20 L641.33 518.46 L642.75 518.71 L644.16 518.94 L645.58 519.17 L646.99 519.38 L648.41 519.59 L649.83 519.78 L651.24 519.97 L652.66 520.14 L654.08 520.31 L655.49 520.47 L656.91 520.62 L658.32 520.76 L659.74 520.89 L661.16 521.02 L662.57 521.14 L663.99 521.26 L665.40 521.36 L666.82 521.47 L668.24 521.56 L669.65 521.65 L671.07 521.74 L672.48 521.82 L673.90 521.90 L675.32 521.97 L676.73 522.04 L678.15 522.10 L679.56 522.16 L680.98 522.21 L682.40 522.27 L683.81 522.32 L685.23 522.36 L686.64 522.41 L688.06 522.45 L689.48 522.49 L690.89 522.52 L692.31 522.56 L693.72 522.59 L695.14 522.62 L696.56 522.64 L697.97 522.67 L699.39 522.69 L700.80 522.72 L702.22 522.74 L703.64 522.76 L705.05 522.77 L706.47 522.79 L707.88 522.81 L709.30 522.82 L710.72 522.84 L712.13 522.85 L713.55 522.86 L714.96 522.87 L716.38 522.88 L717.80 522.89 L719.21 522.90 L720.63 522.91 L722.05 522.91 L723.46 522.92 L724.88 522.93 L726.29 522.93 L727.71 522.94 L729.13 522.94 L730.54 522.95 L731.96 522.95 L733.37 522.96 L734.79 522.96 L736.21 522.96 L737.62 522.97 L739.04 522.97 L740.45 522.97 L741.87 522.97 L743.29 522.98 L744.70 522.98 L746.12 522.98 L747.53 522.98 L748.95 522.98 L750.37 522.99 L751.78 522.99 L753.20 522.99 L754.61 522.99 L756.03 522.99 L757.45 522.99 L758.86 522.99 L760.28 522.99 L761.69 522.99 L763.11 522.99 L764.53 522.99 L765.94 522.99 L767.36 523.00 L768.77 523.00 L770.19 523.00 L771.61 523.00 L773.02 523.00 L774.44 523.00 L775.85 523.00 L777.27 523.00 L778.69 523.00 L780.10 523.00 L781.52 523.00 L782.93 523.00 L784.35 523.00 L785.77 523.00 L787.18 523.00 L788.60 523.00 L790.01 523.00 L791.43 523.00 L792.85 523.00 L794.26 523.00 L795.68 523.00 L797.10 523.00 L798.51 523.00 L799.93 523.00 L801.34 523.00 L802.76 523.00 L804.18 523.00 L805.59 523.00 L807.01 523.00 L808.42 523.00 L809.84 523.00 L811.26 523.00 L812.67 523.00 L814.09 523.00 L815.50 523.00 L816.92 523.00 L818.34 523.00 L819.75 523.00 L821.17 523.00 L822.58 523.00 L824.00 523.00" fill="none" stroke="#14ff00" stroke-width="2.15" stroke-linejoin="round" stroke-linecap="butt" clip-path="url(#c4)"/>
<path d="M484.15 271.71 L485.57 271.71 L486.98 271.71 L488.40 271.71 L489.81 271.71 L491.23 271.72 L492.65 271.72 L494.06 271.72 L495.48 271.73 L496.89 271.73 L498.31 271.74 L499.73 271.74 L501.14 271.75 L502.56 271.76 L503.97 271.77 L505.39 271.78 L506.81 271.79 L508.22 271.81 L509.64 271.82 L511.05 271.84 L512.47 271.87 L513.89 271.89 L515.30 271.92 L516.72 271.95 L518.13 271.99 L519.55 272.03 L520.97 272.08 L522.38 272.13 L523.80 272.19 L525.22 272.26 L526.63 272.33 L528.05 272.42 L529.46 272.51 L530.88 272.62 L532.30 272.73 L533.71 272.86 L535.13 273.01 L536.54 273.17 L537.96 273.35 L539.38 273.55 L540.79 273.76 L542.21 273.90 L543.62 274.04 L545.04 274.18 L546.46 274.34 L547.87 274.50 L549.29 274.67 L550.70 274.86 L552.12 275.05 L553.54 275.25 L554.95 275.46 L556.37 275.68 L557.78 275.92 L559.20 276.16 L560.62 276.42 L562.03 276.69 L563.45 276.97 L564.86 277.27 L566.28 277.58 L567.70 277.90 L569.11 278.24 L570.53 278.59 L571.94 278.96 L573.36 279.35 L574.78 279.75 L576.19 280.18 L577.61 280.61 L579.02 281.07 L580.44 281.55 L581.86 282.04 L583.27 282.56 L584.69 283.10 L586.11 283.66 L587.52 284.23 L588.94 284.84 L590.35 285.46 L591.77 286.11 L593.19 286.78 L594.60 287.48 L596.02 288.20 L597.43 288.94 L598.85 289.71 L600.27 290.51 L601.68 291.34 L603.10 292.19 L604.51 293.07 L605.93 293.97 L607.35 294.91 L608.76 295.87 L610.18 296.87 L611.59 297.89 L613.01 298.94 L614.43 300.02 L615.84 301.14 L617.26 302.28 L618.67 303.46 L620.09 304.66 L621.51 305.90 L622.92 307.17 L624.34 308.47 L625.75 309.80 L627.17 311.16 L628.59 312.55 L630.00 313.98 L631.42 315.44 L632.83 316.93 L634.25 318.45 L635.67 320.00 L637.08 321.59 L638.50 323.20 L639.91 324.85 L641.33 326.52 L642.75 328.23 L644.16 329.96 L645.58 331.73 L646.99 333.52 L648.41 335.34 L649.83 337.19 L651.24 339.07 L652.66 340.97 L654.08 342.90 L655.49 344.85 L656.91 346.83 L658.32 348.84 L659.74 350.86 L661.16 352.91 L662.57 354.98 L663.99 357.08 L665.40 359.19 L666.82 361.32 L668.24 363.47 L669.65 365.63 L671.07 367.81 L672.48 370.01 L673.90 372.22 L675.32 374.44 L676.73 376.68 L678.15 378.92 L679.56 381.18 L680.98 383.44 L682.40 385.71 L683.81 387.98 L685.23 390.27 L686.64 392.55 L688.06 394.84 L689.48 397.13 L690.89 399.42 L692.31 401.70 L693.72 403.99 L695.14 406.27 L696.56 408.55 L697.97 410.82 L699.39 413.08 L700.80 415.34 L702.22 417.59 L703.64 419.82 L705.05 422.05 L706.47 424.26 L707.88 426.46 L709.30 428.64 L710.72 430.81 L712.13 432.96 L713.55 435.10 L714.96 437.21 L716.38 439.31 L717.80 441.38 L719.21 443.44 L720.63 445.47 L722.05 447.48 L723.46 449.46 L724.88 451.42 L726.29 453.36 L727.71 455.26 L729.13 457.15 L730.54 459.00 L731.96 460.83 L733.37 462.63 L734.79 464.40 L736.21 466.14 L737.62 467.85 L739.04 469.53 L740.45 471.18 L741.87 472.80 L743.29 474.39 L744.70 475.95 L746.12 477.48 L747.53 478.97 L748.95 480.44 L750.37 481.87 L751.78 483.27 L753.20 484.64 L754.61 485.98 L756.03 487.28 L757.45 488.56 L758.86 489.80 L760.28 491.01 L761.69 492.19 L763.11 493.34 L764.53 494.46 L765.94 495.55 L767.36 496.61 L768.77 497.64 L770.19 498.64 L771.61 499.61 L773.02 500.55 L774.44 501.46 L775.85 502.34 L777.27 503.20 L778.69 504.03 L780.10 504.83 L781.52 505.61 L782.93 506.36 L784.35 507.09 L785.77 507.79 L787.18 508.46 L788.60 509.11 L790.01 509.74 L791.43 510.35 L792.85 510.93 L794.26 511.50 L795.68 512.04 L797.10 512.56 L798.51 513.06 L799.93 513.54 L801.34 514.00 L802.76 514.44 L804.18 514.87 L805.59 515.27 L807.01 515.66 L808.42 516.04 L809.84 516.39 L811.26 516.74 L812.67 517.06 L814.09 517.38 L815.50 517.67 L816.92 517.96 L818.34 518.23 L819.75 518.49 L821.17 518.74 L822.58 518.97 L824.00 519.20" fill="none" stroke="#ff8c00" stroke-width="2.15" stroke-linejoin="round" stroke-linecap="butt" clip-path="url(#c4)"/>
<g font-family="'Liberation Sans', sans-serif">
<g transform="translate(44.43,261.10)"><text x="0.000 14.682 22.017" y="0" font-size="26.4" fill="#000">0.0</text></g>
<g transform="translate(44.73,220.12)"><text x="0.000 14.682 22.017" y="0" font-size="26.4" fill="#000">0.2</text></g>
<g transform="translate(44.17,169.84)"><text x="0.000 14.682 22.017" y="0" font-size="26.4" fill="#000">0.4</text></g>
<g transform="translate(44.56,119.56)"><text x="0.000 14.682 22.017" y="0" font-size="26.4" fill="#000">0.6</text></g>
<g transform="translate(44.55,69.28)"><text x="0.000 14.682 22.017" y="0" font-size="26.4" fill="#000">0.8</text></g>
<g transform="translate(44.43,24.90)"><path transform="translate(0.317,0) scale(0.012891,-0.012891)" d="M515 0V1237L197 1010V1180L530 1409H696V0Z" fill="#000"/><text x="14.682 22.017" y="0" font-size="26.4" fill="#000">.0</text></g>
<g transform="translate(44.43,522.70)"><text x="0.000 14.682 22.017" y="0" font-size="26.4" fill="#000">0.0</text></g>
<g transform="translate(44.73,481.74)"><text x="0.000 14.682 22.017" y="0" font-size="26.4" fill="#000">0.2</text></g>
<g transform="translate(44.17,431.48)"><text x="0.000 14.682 22.017" y="0" font-size="26.4" fill="#000">0.4</text></g>
<g transform="translate(44.56,381.22)"><text x="0.000 14.682 22.017" y="0" font-size="26.4" fill="#000">0.6</text></g>
<g transform="translate(44.55,330.96)"><text x="0.000 14.682 22.017" y="0" font-size="26.4" fill="#000">0.8</text></g>
<g transform="translate(44.43,286.60)"><path transform="translate(0.317,0) scale(0.012891,-0.012891)" d="M515 0V1237L197 1010V1180L530 1409H696V0Z" fill="#000"/><text x="14.682 22.017" y="0" font-size="26.4" fill="#000">.0</text></g>
<g transform="translate(440.53,261.10)"><text x="0.000 14.682 22.017" y="0" font-size="26.4" fill="#000">0.0</text></g>
<g transform="translate(440.83,220.12)"><text x="0.000 14.682 22.017" y="0" font-size="26.4" fill="#000">0.2</text></g>
<g transform="translate(440.27,169.84)"><text x="0.000 14.682 22.017" y="0" font-size="26.4" fill="#000">0.4</text></g>
<g transform="translate(440.66,119.56)"><text x="0.000 14.682 22.017" y="0" font-size="26.4" fill="#000">0.6</text></g>
<g transform="translate(440.65,69.28)"><text x="0.000 14.682 22.017" y="0" font-size="26.4" fill="#000">0.8</text></g>
<g transform="translate(440.53,24.90)"><path transform="translate(0.317,0) scale(0.012891,-0.012891)" d="M515 0V1237L197 1010V1180L530 1409H696V0Z" fill="#000"/><text x="14.682 22.017" y="0" font-size="26.4" fill="#000">.0</text></g>
<g transform="translate(440.53,522.70)"><text x="0.000 14.682 22.017" y="0" font-size="26.4" fill="#000">0.0</text></g>
<g transform="translate(440.83,481.74)"><text x="0.000 14.682 22.017" y="0" font-size="26.4" fill="#000">0.2</text></g>
<g transform="translate(440.27,431.48)"><text x="0.000 14.682 22.017" y="0" font-size="26.4" fill="#000">0.4</text></g>
<g transform="translate(440.66,381.22)"><text x="0.000 14.682 22.017" y="0" font-size="26.4" fill="#000">0.6</text></g>
<g transform="translate(440.65,330.96)"><text x="0.000 14.682 22.017" y="0" font-size="26.4" fill="#000">0.8</text></g>
<g transform="translate(440.53,286.60)"><path transform="translate(0.317,0) scale(0.012891,-0.012891)" d="M515 0V1237L197 1010V1180L530 1409H696V0Z" fill="#000"/><text x="14.682 22.017" y="0" font-size="26.4" fill="#000">.0</text></g>
<g transform="translate(73.52,556.00)"><path transform="translate(0.317,0) scale(0.012891,-0.012891)" d="M515 0V1237L197 1010V1180L530 1409H696V0Z" fill="#000"/><text x="14.682" y="0" font-size="26.4" fill="#000">0</text></g>
<g transform="translate(158.44,556.00)"><path transform="translate(0.317,0) scale(0.012891,-0.012891)" d="M515 0V1237L197 1010V1180L530 1409H696V0Z" fill="#000"/><path transform="translate(14.999,0) scale(0.012891,-0.012891)" d="M515 0V1237L197 1010V1180L530 1409H696V0Z" fill="#000"/></g>
<g transform="translate(243.37,556.00)"><path transform="translate(0.317,0) scale(0.012891,-0.012891)" d="M515 0V1237L197 1010V1180L530 1409H696V0Z" fill="#000"/><text x="14.682" y="0" font-size="26.4" fill="#000">2</text></g>
<g transform="translate(328.29,556.00)"><path transform="translate(0.317,0) scale(0.012891,-0.012891)" d="M515 0V1237L197 1010V1180L530 1409H696V0Z" fill="#000"/><text x="14.682" y="0" font-size="26.4" fill="#000">3</text></g>
<g transform="translate(413.22,556.00)"><path transform="translate(0.317,0) scale(0.012891,-0.012891)" d="M515 0V1237L197 1010V1180L530 1409H696V0Z" fill="#000"/><text x="14.682" y="0" font-size="26.4" fill="#000">4</text></g>
<g transform="translate(477.01,556.00)"><text x="0.000" y="0" font-size="26.4" fill="#000">0</text></g>
<g transform="translate(533.65,556.00)"><path transform="translate(0.317,0) scale(0.012891,-0.012891)" d="M515 0V1237L197 1010V1180L530 1409H696V0Z" fill="#000"/></g>
<g transform="translate(590.29,556.00)"><text x="0.000" y="0" font-size="26.4" fill="#000">2</text></g>
<g transform="translate(646.93,556.00)"><text x="0.000" y="0" font-size="26.4" fill="#000">3</text></g>
<g transform="translate(703.58,556.00)"><text x="0.000" y="0" font-size="26.4" fill="#000">4</text></g>
<g transform="translate(760.22,556.00)"><text x="0.000" y="0" font-size="26.4" fill="#000">5</text></g>
<g transform="translate(816.86,556.00)"><text x="0.000" y="0" font-size="26.4" fill="#000">6</text></g>
<g transform="translate(100.15,34.50) scale(1.0069,1)"><text x="0.000 18.209 33.392 47.042 62.225 68.290 83.473" y="0" font-size="27.3" fill="#000">Secular</text></g>
<g transform="translate(99.92,296.60) scale(1.0173,1)"><text x="0.000 19.715 34.898 40.963 63.731 84.966 100.149 115.332 130.515 144.165 159.348 165.413 180.596" y="0" font-size="27.3" fill="#000">HaloQuenching</text></g>
<g transform="translate(116.98,334.70) scale(1.0179,1)"><text x="0.000" y="0" font-size="24.7" fill="#000000">z</text></g>
<rect x="137.00" y="325.90" width="11.90" height="1.9" fill="#000000"/><rect x="137.00" y="330.25" width="11.90" height="1.9" fill="#000000"/>
<g transform="translate(156.27,334.70) scale(0.9474,1)"><text x="0.000 13.959 20.933" y="0" font-size="25.1" fill="#000000">0.0</text></g>
<g transform="translate(116.98,359.85) scale(1.0179,1)"><text x="0.000" y="0" font-size="24.7" fill="#2d00f5">z</text></g>
<rect x="137.00" y="351.05" width="11.90" height="1.9" fill="#2d00f5"/><rect x="137.00" y="355.40" width="11.90" height="1.9" fill="#2d00f5"/>
<g transform="translate(156.27,359.85) scale(0.9474,1)"><text x="0.000 13.959 20.933" y="0" font-size="25.1" fill="#2d00f5">0.5</text></g>
<g transform="translate(116.98,385.00) scale(1.0179,1)"><text x="0.000" y="0" font-size="24.7" fill="#a800ff">z</text></g>
<rect x="137.00" y="376.20" width="11.90" height="1.9" fill="#a800ff"/><rect x="137.00" y="380.55" width="11.90" height="1.9" fill="#a800ff"/>
<g transform="translate(156.27,385.00) scale(0.9474,1)"><path transform="translate(0.301,0) scale(0.012256,-0.012256)" d="M515 0V1237L197 1010V1180L530 1409H696V0Z" fill="#a800ff"/><text x="13.959 20.933" y="0" font-size="25.1" fill="#a800ff">.0</text></g>
<g transform="translate(116.98,410.15) scale(1.0179,1)"><text x="0.000" y="0" font-size="24.7" fill="#0a84ff">z</text></g>
<rect x="137.00" y="401.35" width="11.90" height="1.9" fill="#0a84ff"/><rect x="137.00" y="405.70" width="11.90" height="1.9" fill="#0a84ff"/>
<g transform="translate(156.27,410.15) scale(0.9474,1)"><path transform="translate(0.301,0) scale(0.012256,-0.012256)" d="M515 0V1237L197 1010V1180L530 1409H696V0Z" fill="#0a84ff"/><text x="13.959 20.933" y="0" font-size="25.1" fill="#0a84ff">.5</text></g>
<g transform="translate(116.98,435.30) scale(1.0179,1)"><text x="0.000" y="0" font-size="24.7" fill="#00f0c8">z</text></g>
<rect x="137.00" y="426.50" width="11.90" height="1.9" fill="#00f0c8"/><rect x="137.00" y="430.85" width="11.90" height="1.9" fill="#00f0c8"/>
<g transform="translate(156.27,435.30) scale(0.9474,1)"><text x="0.000 13.959 20.933" y="0" font-size="25.1" fill="#00f0c8">2.0</text></g>
<g transform="translate(116.98,460.45) scale(1.0179,1)"><text x="0.000" y="0" font-size="24.7" fill="#14ff00">z</text></g>
<rect x="137.00" y="451.65" width="11.90" height="1.9" fill="#14ff00"/><rect x="137.00" y="456.00" width="11.90" height="1.9" fill="#14ff00"/>
<g transform="translate(156.27,460.45) scale(0.9474,1)"><text x="0.000 13.959 20.933" y="0" font-size="25.1" fill="#14ff00">3.0</text></g>
<g transform="translate(761.10,314.30) scale(0.9801,1)"><path transform="translate(0.294,0) scale(0.011963,-0.011963)" d="M515 0V1237L197 1010V1180L530 1409H696V0Z" fill="#000000"/><text x="13.626 27.251 34.058" y="0" font-size="24.5" fill="#000000">0.5</text></g>
<g transform="translate(761.10,335.70) scale(0.9801,1)"><path transform="translate(0.294,0) scale(0.011963,-0.011963)" d="M515 0V1237L197 1010V1180L530 1409H696V0Z" fill="#2d00f5"/><path transform="translate(13.920,0) scale(0.011963,-0.011963)" d="M515 0V1237L197 1010V1180L530 1409H696V0Z" fill="#2d00f5"/><text x="27.251 34.058" y="0" font-size="24.5" fill="#2d00f5">.0</text></g>
<g transform="translate(761.10,357.10) scale(0.9801,1)"><path transform="translate(0.294,0) scale(0.011963,-0.011963)" d="M515 0V1237L197 1010V1180L530 1409H696V0Z" fill="#a800ff"/><path transform="translate(13.920,0) scale(0.011963,-0.011963)" d="M515 0V1237L197 1010V1180L530 1409H696V0Z" fill="#a800ff"/><text x="27.251 34.058" y="0" font-size="24.5" fill="#a800ff">.3</text></g>
<g transform="translate(761.10,378.50) scale(0.9801,1)"><path transform="translate(0.294,0) scale(0.011963,-0.011963)" d="M515 0V1237L197 1010V1180L530 1409H696V0Z" fill="#0a84ff"/><path transform="translate(13.920,0) scale(0.011963,-0.011963)" d="M515 0V1237L197 1010V1180L530 1409H696V0Z" fill="#0a84ff"/><text x="27.251 34.058" y="0" font-size="24.5" fill="#0a84ff">.5</text></g>
<g transform="translate(761.10,399.90) scale(0.9801,1)"><path transform="translate(0.294,0) scale(0.011963,-0.011963)" d="M515 0V1237L197 1010V1180L530 1409H696V0Z" fill="#00f0c8"/><text x="13.626 27.251 34.058" y="0" font-size="24.5" fill="#00f0c8">2.0</text></g>
<g transform="translate(761.10,421.30) scale(0.9801,1)"><path transform="translate(0.294,0) scale(0.011963,-0.011963)" d="M515 0V1237L197 1010V1180L530 1409H696V0Z" fill="#14ff00"/><text x="13.626 27.251 34.058" y="0" font-size="24.5" fill="#14ff00">3.0</text></g>
<g transform="translate(761.10,442.70) scale(0.9801,1)"><path transform="translate(0.294,0) scale(0.011963,-0.011963)" d="M515 0V1237L197 1010V1180L530 1409H696V0Z" fill="#ff8c00"/><text x="13.626 27.251 34.058" y="0" font-size="24.5" fill="#ff8c00">4.0</text></g>
<g transform="translate(681.86,314.20) scale(1.0129,1)"><text x="0.000" y="0" font-size="24.5" fill="#000">M</text></g>
<g transform="translate(702.00,319.60) scale(0.9855,1)"><text x="0.000 8.120 16.240 19.483" y="0" font-size="14.6" fill="#000">halo</text></g>
<rect x="737.30" y="305.50" width="11.60" height="1.9" fill="#000"/><rect x="737.30" y="309.85" width="11.60" height="1.9" fill="#000"/>
<g transform="translate(151.29,584.90) scale(0.9479,1)"><text x="0.000 5.954 20.859 35.764" y="0" font-size="26.8" fill="#000">log(</text></g>
<g transform="translate(202.64,584.90) scale(1.0112,1)"><text x="0.000" y="0" font-size="27.2" fill="#000">M</text></g>
<g transform="translate(224.95,591.00) scale(1.0327,1)"><text x="0.000 8.898 17.797 21.352" y="0" font-size="16.0" fill="#000">halo</text></g>
<g transform="translate(263.00,584.90) scale(1.0073,1)"><text x="0.000" y="0" font-size="26.8" fill="#000">/</text></g>
<g transform="translate(278.09,584.90) scale(0.9729,1)"><text x="0.000" y="0" font-size="26.8" fill="#000">h</text></g>
<g transform="translate(292.39,572.70) scale(0.9128,1)"><text x="0.000" y="0" font-size="17.5" fill="#000">-</text></g>
<g transform="translate(297.36,572.70) scale(1.0850,1)"><path transform="translate(0.209,0) scale(0.008496,-0.008496)" d="M515 0V1237L197 1010V1180L530 1409H696V0Z" fill="#000"/></g>
<g transform="translate(314.01,584.90) scale(1.0277,1)"><text x="0.000" y="0" font-size="27.2" fill="#000">M</text></g>
<circle cx="343.4" cy="585.0" r="6.2" fill="none" stroke="#000" stroke-width="1.35"/><circle cx="343.4" cy="585.0" r="2.0" fill="#000"/>
<g transform="translate(354.76,584.90) scale(0.9007,1)"><text x="0.000" y="0" font-size="26.8" fill="#000">)</text></g>
<g transform="translate(647.38,584.40)"><text x="0.000" y="0" font-size="26.5" fill="#000">z</text></g>
<text transform="translate(25.9,290.3) rotate(-90)" font-size="27" fill="#000">f<tspan font-size="16.8" dy="7">red</tspan></text>
</g>
</svg>
</body></html>
